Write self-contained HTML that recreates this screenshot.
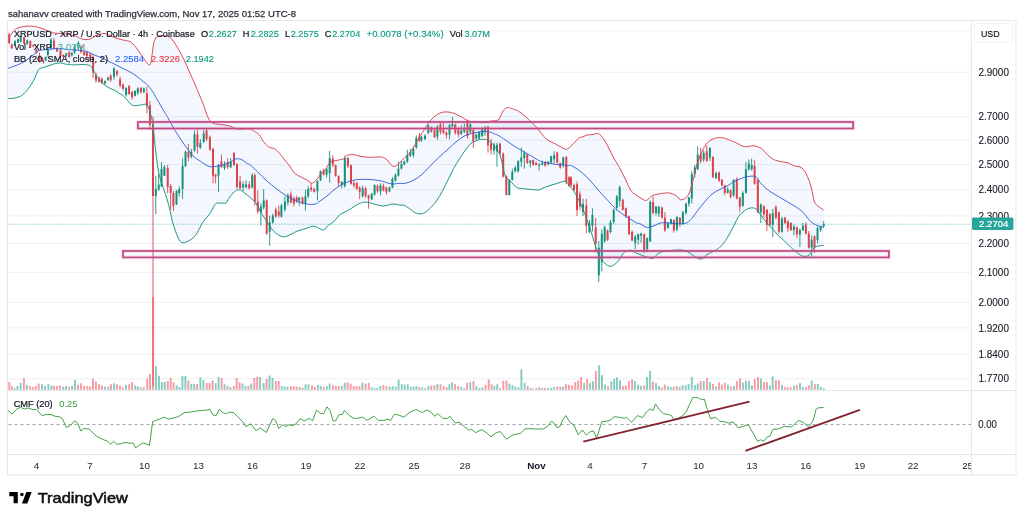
<!DOCTYPE html>
<html><head><meta charset="utf-8"><title>XRPUSD chart</title><style>html,body{margin:0;padding:0;background:#fff;width:1024px;height:521px;overflow:hidden}body{position:relative}</style></head><body>
<svg width="1024" height="521" viewBox="0 0 1024 521" style="position:absolute;left:0;top:0;filter:blur(0.35px)">
<rect width="1024" height="521" fill="#ffffff"/>
<text x="8" y="16.5" font-size="9.7" fill="#2a2e39" stroke="#2a2e39" stroke-width="0.25" font-family="Liberation Sans, Arial, sans-serif" textLength="288" lengthAdjust="spacingAndGlyphs">sahanavv created with TradingView.com, Nov 17, 2025 01:52 UTC-8</text>
<defs><clipPath id="mainclip"><rect x="7.5" y="20.5" width="964" height="370"/></clipPath><clipPath id="cmfclip"><rect x="7.5" y="391" width="964" height="63.5"/></clipPath></defs>
<line x1="8.5" y1="30.8" x2="971" y2="30.8" stroke="#eff0f3" stroke-width="1"/>
<line x1="8.5" y1="72.2" x2="971" y2="72.2" stroke="#eff0f3" stroke-width="1"/>
<line x1="8.5" y1="116.7" x2="971" y2="116.7" stroke="#eff0f3" stroke-width="1"/>
<line x1="8.5" y1="140.3" x2="971" y2="140.3" stroke="#eff0f3" stroke-width="1"/>
<line x1="8.5" y1="164.6" x2="971" y2="164.6" stroke="#eff0f3" stroke-width="1"/>
<line x1="8.5" y1="189.5" x2="971" y2="189.5" stroke="#eff0f3" stroke-width="1"/>
<line x1="8.5" y1="215.9" x2="971" y2="215.9" stroke="#eff0f3" stroke-width="1"/>
<line x1="8.5" y1="243.5" x2="971" y2="243.5" stroke="#eff0f3" stroke-width="1"/>
<line x1="8.5" y1="272.5" x2="971" y2="272.5" stroke="#eff0f3" stroke-width="1"/>
<line x1="8.5" y1="302.5" x2="971" y2="302.5" stroke="#eff0f3" stroke-width="1"/>
<line x1="8.5" y1="327.9" x2="971" y2="327.9" stroke="#eff0f3" stroke-width="1"/>
<line x1="8.5" y1="354.5" x2="971" y2="354.5" stroke="#eff0f3" stroke-width="1"/>
<line x1="8.5" y1="378.7" x2="971" y2="378.7" stroke="#eff0f3" stroke-width="1"/>
<g clip-path="url(#mainclip)">
<path d="M7,36.5 C7.55,36.32 9.13,36.4 10.3,35.4 C11.47,34.4 12.85,31.67 14,30.5 C15.15,29.33 15.63,29.07 17.2,28.4 C18.77,27.73 21.1,26.88 23.4,26.5 C25.7,26.12 28.45,25.95 31,26.1 C33.55,26.25 35.87,26.62 38.7,27.4 C41.53,28.18 45.45,29.87 48,30.8 C50.55,31.73 51.7,32.55 54,33 C56.3,33.45 59.23,33.23 61.8,33.5 C64.37,33.77 66.87,34.1 69.4,34.6 C71.93,35.1 75.37,35.93 77,36.5 C78.63,37.07 77.82,37.48 79.2,38 C80.58,38.52 83.38,39.47 85.3,39.6 C87.22,39.73 89.03,39.43 90.7,38.8 C92.37,38.17 94.02,36.43 95.3,35.8 C96.58,35.17 96.78,35.38 98.4,35 C100.02,34.62 102.45,33.12 105,33.5 C107.55,33.88 111.2,36.35 113.7,37.3 C116.2,38.25 118.12,38.67 120,39.2 C121.88,39.73 123.27,40.07 125,40.5 C126.73,40.93 128.6,40.68 130.4,41.8 C132.2,42.92 134.02,45.07 135.8,47.2 C137.58,49.33 139.53,52.37 141.1,54.6 C142.67,56.83 143.73,58.87 145.2,60.6 C146.67,62.33 148.78,65.78 149.9,65 C151.02,64.22 151.23,59.65 151.9,55.9 C152.57,52.15 153.12,45.63 153.9,42.5 C154.68,39.37 155.6,38.22 156.6,37.1 C157.6,35.98 158.45,35.98 159.9,35.8 C161.35,35.62 163.72,35.78 165.3,36 C166.88,36.22 168.05,36.25 169.4,37.1 C170.75,37.95 171.83,38.97 173.4,41.1 C174.97,43.23 177.02,46.77 178.8,49.9 C180.58,53.03 182.32,56.22 184.1,59.9 C185.88,63.58 187.7,67.97 189.5,72 C191.3,76.03 193.38,80.6 194.9,84.1 C196.42,87.6 197.18,89.62 198.6,93 C200.02,96.38 202.02,100.77 203.4,104.4 C204.78,108.03 205.55,111.78 206.9,114.8 C208.25,117.82 209.45,120.9 211.5,122.5 C213.55,124.1 216.32,123.87 219.2,124.4 C222.08,124.93 226.08,125 228.8,125.7 C231.52,126.4 233.58,128.02 235.5,128.6 C237.42,129.18 237.88,129.15 240.3,129.2 C242.72,129.25 247.48,128.42 250,128.9 C252.52,129.38 253.83,131.12 255.4,132.1 C256.97,133.08 258.07,133.23 259.4,134.8 C260.73,136.37 261.83,139.48 263.4,141.5 C264.97,143.52 266.88,145.67 268.8,146.9 C270.72,148.13 273.1,147.78 274.9,148.9 C276.7,150.02 277.92,151.7 279.6,153.6 C281.28,155.5 283.22,158.07 285,160.3 C286.78,162.53 288.73,164.87 290.3,167 C291.87,169.13 292.6,171.42 294.4,173.1 C296.2,174.78 298.87,175.87 301.1,177.1 C303.33,178.33 306.02,179.48 307.8,180.5 C309.58,181.52 310.45,183.2 311.8,183.2 C313.15,183.2 314.55,181.85 315.9,180.5 C317.25,179.15 318.33,176.9 319.9,175.1 C321.47,173.3 323.73,171.72 325.3,169.7 C326.87,167.68 328.42,164.35 329.3,163 C330.18,161.65 329.18,162.07 330.6,161.6 C332.02,161.13 335.63,160.68 337.8,160.2 C339.97,159.72 342.17,159.48 343.6,158.7 C345.03,157.92 344.73,156.18 346.4,155.5 C348.07,154.82 351.17,154.43 353.6,154.6 C356.03,154.77 358.28,156.05 361,156.5 C363.72,156.95 366.5,157.22 369.9,157.3 C373.3,157.38 378.52,156.55 381.4,157 C384.28,157.45 385.6,158.72 387.2,160 C388.8,161.28 389.72,163.63 391,164.7 C392.28,165.77 393.4,166.78 394.9,166.4 C396.4,166.02 398.32,163.9 400,162.4 C401.68,160.9 403.33,159.07 405,157.4 C406.67,155.73 408.33,154.48 410,152.4 C411.67,150.32 413.33,147.6 415,144.9 C416.67,142.2 418.35,138.9 420,136.2 C421.65,133.5 423.25,131.2 424.9,128.7 C426.55,126.2 428.23,123.28 429.9,121.2 C431.57,119.12 433.23,117.55 434.9,116.2 C436.57,114.85 438.22,113.82 439.9,113.1 C441.58,112.38 443.02,111.98 445,111.9 C446.98,111.82 449.38,111.93 451.8,112.6 C454.22,113.27 456.87,114.58 459.5,115.9 C462.13,117.22 465.35,119.52 467.6,120.5 C469.85,121.48 470.75,121.47 473,121.8 C475.25,122.13 478.85,122.42 481.1,122.5 C483.35,122.58 484.93,122.53 486.5,122.3 C488.07,122.07 488.72,121.43 490.5,121.1 C492.28,120.77 495.75,120.68 497.2,120.3 C498.65,119.92 498.23,120.33 499.2,118.8 C500.17,117.27 501.72,112.95 503,111.1 C504.28,109.25 505.62,108.18 506.9,107.7 C508.18,107.22 508.78,107.63 510.7,108.2 C512.62,108.77 515.85,109.65 518.4,111.1 C520.95,112.55 523.77,114.98 526,116.9 C528.23,118.82 529.87,120.68 531.8,122.6 C533.73,124.52 535.68,126.17 537.6,128.4 C539.52,130.63 541.38,133.92 543.3,136 C545.22,138.08 547.17,139.62 549.1,140.9 C551.03,142.18 553.08,142.77 554.9,143.7 C556.72,144.63 558.18,145.57 560,146.5 C561.82,147.43 564.2,149.15 565.8,149.3 C567.4,149.45 568.33,148.35 569.6,147.4 C570.87,146.45 571.8,145.2 573.4,143.6 C575,142 577.6,138.92 579.2,137.8 C580.8,136.68 581.72,137.37 583,136.9 C584.28,136.43 585.3,135.38 586.9,135 C588.5,134.62 590.85,134.87 592.6,134.6 C594.35,134.33 595.8,133.02 597.4,133.4 C599,133.78 600.43,134.72 602.2,136.9 C603.97,139.08 606.08,142.98 608,146.5 C609.92,150.02 611.78,154.48 613.7,158 C615.62,161.52 617.57,164.08 619.5,167.6 C621.43,171.12 623.38,175.27 625.3,179.1 C627.22,182.93 629.08,187.88 631,190.6 C632.92,193.32 634.55,193.8 636.8,195.4 C639.05,197 642.68,199.5 644.5,200.2 C646.32,200.9 646.43,200.33 647.7,199.6 C648.97,198.87 650.18,196.75 652.1,195.8 C654.02,194.85 656.42,194.38 659.2,193.9 C661.98,193.42 665.92,192.58 668.8,192.9 C671.68,193.22 674.58,194.67 676.5,195.8 C678.42,196.93 678.72,199.38 680.3,199.7 C681.88,200.02 684.38,199.15 686,197.7 C687.62,196.25 688.72,194.35 690,191 C691.28,187.65 692.43,182.4 693.7,177.6 C694.97,172.8 696,167 697.6,162.2 C699.2,157.4 701.38,152.32 703.3,148.8 C705.22,145.28 706.85,142.92 709.1,141.1 C711.35,139.28 714.23,138.38 716.8,137.9 C719.37,137.42 721.95,137.67 724.5,138.2 C727.05,138.73 730.1,140.32 732.1,141.1 C734.1,141.88 734.48,141.97 736.5,142.9 C738.52,143.83 741.32,146.22 744.2,146.7 C747.08,147.18 750.92,145.48 753.8,145.8 C756.68,146.12 759.27,147.17 761.5,148.6 C763.73,150.03 765.28,152.63 767.2,154.4 C769.12,156.17 771.08,158.08 773,159.2 C774.92,160.32 776.15,160.47 778.7,161.1 C781.25,161.73 785.73,162.2 788.3,163 C790.87,163.8 791.85,165.1 794.1,165.9 C796.35,166.7 799.57,166.03 801.8,167.8 C804.03,169.57 805.9,173.13 807.5,176.5 C809.1,179.87 810.27,183.85 811.4,188 C812.53,192.15 813.35,198.52 814.3,201.4 C815.25,204.28 815.53,203.85 817.1,205.3 C818.67,206.75 822.6,209.3 823.7,210.1 L823.7,245.4 C823.08,245.45 821.4,245.45 820,245.7 C818.6,245.95 816.33,246.52 815.3,246.9 C814.27,247.28 814.43,247.18 813.8,248 C813.17,248.82 812.27,250.65 811.5,251.8 C810.73,252.95 810.12,254.13 809.2,254.9 C808.28,255.67 807.28,256.27 806,256.4 C804.72,256.53 803.02,256.33 801.5,255.7 C799.98,255.07 798.7,254.02 796.9,252.6 C795.1,251.18 792.75,249.12 790.7,247.2 C788.65,245.28 786.65,243.02 784.6,241.1 C782.55,239.18 780.2,237.5 778.4,235.7 C776.6,233.9 775.33,231.97 773.8,230.3 C772.27,228.63 770.73,227.37 769.2,225.7 C767.67,224.03 766.13,222.25 764.6,220.3 C763.07,218.35 761.48,215.93 760,214 C758.52,212.07 757.37,209.68 755.7,208.7 C754.03,207.72 751.92,207.72 750,208.1 C748.08,208.48 746.13,209.55 744.2,211 C742.27,212.45 740.1,214.38 738.4,216.8 C736.7,219.22 735.68,222.3 734,225.5 C732.32,228.7 730.22,232.8 728.3,236 C726.38,239.2 724.42,242.45 722.5,244.7 C720.58,246.95 718.72,248.22 716.8,249.5 C714.88,250.78 712.77,251.43 711,252.4 C709.23,253.37 707.8,254.18 706.2,255.3 C704.6,256.42 703.15,258.78 701.4,259.1 C699.65,259.42 697.6,258.17 695.7,257.2 C693.8,256.23 691.93,254.42 690,253.3 C688.07,252.18 686.03,251.07 684.1,250.5 C682.17,249.93 680.63,249.9 678.4,249.9 C676.17,249.9 673.27,250.25 670.7,250.5 C668.13,250.75 665.23,250.77 663,251.4 C660.77,252.03 658.97,253.13 657.3,254.3 C655.63,255.47 654.5,257.85 653,258.4 C651.5,258.95 650.1,258.12 648.3,257.6 C646.5,257.08 644.25,256.07 642.2,255.3 C640.15,254.53 637.8,253.82 636,253 C634.2,252.18 632.93,250.78 631.4,250.4 C629.87,250.02 628.2,250.13 626.8,250.7 C625.4,251.27 624.27,252.25 623,253.8 C621.73,255.35 620.62,258.22 619.2,260 C617.78,261.78 616.03,263.43 614.5,264.5 C612.97,265.57 611.53,266.52 610,266.4 C608.47,266.28 606.85,265.13 605.3,263.8 C603.75,262.47 602.25,261.03 600.7,258.4 C599.15,255.77 597.42,251.85 596,248 C594.58,244.15 593.47,239.35 592.2,235.3 C590.93,231.25 590,228.18 588.4,223.7 C586.8,219.22 584.83,213.52 582.6,208.4 C580.37,203.28 577.23,196.83 575,193 C572.77,189.17 570.62,187.23 569.2,185.4 C567.78,183.57 567.33,182.7 566.5,182 C565.67,181.3 565.22,181.13 564.2,181.2 C563.18,181.27 562.07,181.88 560.4,182.4 C558.73,182.92 556.27,183.67 554.2,184.3 C552.13,184.93 549.87,185.58 548,186.2 C546.13,186.82 544.47,187.38 543,188 C541.53,188.62 540.45,189.58 539.2,189.9 C537.95,190.22 537.17,190 535.5,189.9 C533.83,189.8 531.28,189.5 529.2,189.3 C527.12,189.1 525.08,189.02 523,188.7 C520.92,188.38 518.78,188.65 516.7,187.4 C514.62,186.15 512.45,183.27 510.5,181.2 C508.55,179.13 506.75,179.37 505,175 C503.25,170.63 501.83,159.88 500,155 C498.17,150.12 495.63,147.9 494,145.7 C492.37,143.5 491.47,142.83 490.2,141.8 C488.93,140.77 488,139.88 486.4,139.5 C484.8,139.12 482.2,139.32 480.6,139.5 C479,139.68 478.4,139.95 476.8,140.6 C475.2,141.25 472.92,141.8 471,143.4 C469.08,145 467.22,147.63 465.3,150.2 C463.38,152.77 461.43,155.77 459.5,158.8 C457.57,161.83 455.62,164.87 453.7,168.4 C451.78,171.93 449.92,176.17 448,180 C446.08,183.83 444.12,187.9 442.2,191.4 C440.28,194.9 438.42,198.28 436.5,201 C434.58,203.72 432.62,205.78 430.7,207.7 C428.78,209.62 426.75,211.47 425,212.5 C423.25,213.53 421.8,213.83 420.2,213.9 C418.6,213.97 417.17,213.77 415.4,212.9 C413.63,212.03 411.53,209.98 409.6,208.7 C407.67,207.42 405.4,205.78 403.8,205.2 C402.2,204.62 401.82,205.4 400,205.2 C398.18,205 395.68,203.87 392.9,204 C390.12,204.13 386.5,206 383.3,206 C380.1,206 376.58,204.65 373.7,204 C370.82,203.35 368.55,202.1 366,202.1 C363.45,202.1 361.27,202.68 358.4,204 C355.53,205.32 351.87,208.22 348.8,210 C345.73,211.78 342.47,212.8 340,214.7 C337.53,216.6 335.95,219.63 334,221.4 C332.05,223.17 330.05,223.87 328.3,225.3 C326.55,226.73 325.1,229.53 323.5,230 C321.9,230.47 320.45,228.73 318.7,228.1 C316.95,227.47 314.92,226.2 313,226.2 C311.08,226.2 309.77,227.3 307.2,228.1 C304.63,228.9 300.17,230.03 297.6,231 C295.03,231.97 294.05,232.93 291.8,233.9 C289.55,234.87 286.33,236.63 284.1,236.8 C281.87,236.97 280.32,236.03 278.4,234.9 C276.48,233.77 274.52,232.25 272.6,230 C270.68,227.75 268.82,224.27 266.9,221.4 C264.98,218.53 262.97,215.87 261.1,212.8 C259.23,209.73 257.55,205.58 255.7,203 C253.85,200.42 251.93,199.05 250,197.3 C248.07,195.55 245.88,193.77 244.1,192.5 C242.32,191.23 240.9,189.85 239.3,189.7 C237.7,189.55 236.25,190.17 234.5,191.6 C232.75,193.03 230.22,196.4 228.8,198.3 C227.38,200.2 227.43,202.22 226,203 C224.57,203.78 221.97,202.83 220.2,203 C218.43,203.17 217,202.4 215.4,204 C213.8,205.6 212.67,209.57 210.6,212.6 C208.53,215.63 205.55,218.35 203,222.2 C200.45,226.05 197.87,232.5 195.3,235.7 C192.73,238.9 189.85,240.28 187.6,241.4 C185.35,242.52 183.4,243.03 181.8,242.4 C180.2,241.77 179.5,240.83 178,237.6 C176.5,234.37 173.97,226.77 172.8,223 C171.63,219.23 171.87,218.67 171,215 C170.13,211.33 168.93,205.63 167.6,201 C166.27,196.37 164.53,192.2 163,187.2 C161.47,182.2 159.73,178.03 158.4,171 C157.07,163.97 155.9,152.67 155,145 C154.1,137.33 153.83,130.5 153,125 C152.17,119.5 150.92,115.17 150,112 C149.08,108.83 148.28,107.3 147.5,106 C146.72,104.7 146.68,104.32 145.3,104.2 C143.92,104.08 141.37,105.12 139.2,105.3 C137.03,105.48 134.48,106.38 132.3,105.3 C130.12,104.22 127.78,100.52 126.1,98.8 C124.42,97.08 123.35,95.9 122.2,95 C121.05,94.1 120.47,94.18 119.2,93.4 C117.93,92.62 116.27,91.2 114.6,90.3 C112.93,89.4 111,89.02 109.2,88 C107.4,86.98 105.47,85.6 103.8,84.2 C102.13,82.8 100.73,81.52 99.2,79.6 C97.67,77.68 95.88,74.77 94.6,72.7 C93.32,70.63 92.4,68.43 91.5,67.2 C90.6,65.97 90.62,65.75 89.2,65.3 C87.78,64.85 85.32,64.57 83,64.5 C80.68,64.43 77.85,64.9 75.3,64.9 C72.75,64.9 69.58,64.68 67.7,64.5 C65.82,64.32 65.17,64.05 64,63.8 C62.83,63.55 62.05,63.07 60.7,63 C59.35,62.93 57.82,62.97 55.9,63.4 C53.98,63.83 51.43,64.87 49.2,65.6 C46.97,66.33 44.27,67.13 42.5,67.8 C40.73,68.47 39.88,67.9 38.6,69.6 C37.32,71.3 36.07,75.47 34.8,78 C33.53,80.53 32.6,82.4 31,84.8 C29.4,87.2 26.97,90.48 25.2,92.4 C23.43,94.32 22.32,95.33 20.4,96.3 C18.48,97.27 15.93,97.82 13.7,98.2 C11.47,98.58 8.12,98.53 7,98.6 Z" fill="#487ade" fill-opacity="0.062" stroke="none"/>
<rect x="8.35" y="382" width="1.9" height="7.8" fill="#F23645" fill-opacity="0.5"/>
<rect x="10.85" y="386" width="1.9" height="3.8" fill="#F23645" fill-opacity="0.5"/>
<rect x="13.65" y="388" width="1.9" height="1.8" fill="#089981" fill-opacity="0.5"/>
<rect x="16.55" y="386" width="1.9" height="3.8" fill="#089981" fill-opacity="0.5"/>
<rect x="19.75" y="383" width="1.9" height="6.8" fill="#089981" fill-opacity="0.5"/>
<rect x="22.95" y="378.2" width="1.9" height="11.6" fill="#F23645" fill-opacity="0.5"/>
<rect x="25.85" y="384.8" width="1.9" height="5" fill="#089981" fill-opacity="0.5"/>
<rect x="28.85" y="386" width="1.9" height="3.8" fill="#F23645" fill-opacity="0.5"/>
<rect x="31.75" y="387" width="1.9" height="2.8" fill="#F23645" fill-opacity="0.5"/>
<rect x="34.75" y="386" width="1.9" height="3.8" fill="#F23645" fill-opacity="0.5"/>
<rect x="37.75" y="383.6" width="1.9" height="6.2" fill="#F23645" fill-opacity="0.5"/>
<rect x="41.05" y="384.2" width="1.9" height="5.6" fill="#089981" fill-opacity="0.5"/>
<rect x="44.05" y="386" width="1.9" height="3.8" fill="#089981" fill-opacity="0.5"/>
<rect x="47.45" y="384.2" width="1.9" height="5.6" fill="#089981" fill-opacity="0.5"/>
<rect x="50.45" y="385.5" width="1.9" height="4.3" fill="#089981" fill-opacity="0.5"/>
<rect x="53.05" y="385.9" width="1.9" height="3.9" fill="#F23645" fill-opacity="0.5"/>
<rect x="55.95" y="386" width="1.9" height="3.8" fill="#F23645" fill-opacity="0.5"/>
<rect x="59.05" y="385.5" width="1.9" height="4.3" fill="#F23645" fill-opacity="0.5"/>
<rect x="62.25" y="386.7" width="1.9" height="3.1" fill="#089981" fill-opacity="0.5"/>
<rect x="65.15" y="386" width="1.9" height="3.8" fill="#089981" fill-opacity="0.5"/>
<rect x="68.25" y="386.7" width="1.9" height="3.1" fill="#F23645" fill-opacity="0.5"/>
<rect x="71.15" y="386" width="1.9" height="3.8" fill="#089981" fill-opacity="0.5"/>
<rect x="74.05" y="379.8" width="1.9" height="10" fill="#089981" fill-opacity="0.5"/>
<rect x="77.05" y="384.8" width="1.9" height="5" fill="#F23645" fill-opacity="0.5"/>
<rect x="80.05" y="383.3" width="1.9" height="6.5" fill="#F23645" fill-opacity="0.5"/>
<rect x="83.15" y="386" width="1.9" height="3.8" fill="#F23645" fill-opacity="0.5"/>
<rect x="86.35" y="386" width="1.9" height="3.8" fill="#F23645" fill-opacity="0.5"/>
<rect x="89.25" y="386.7" width="1.9" height="3.1" fill="#F23645" fill-opacity="0.5"/>
<rect x="92.05" y="378.9" width="1.9" height="10.9" fill="#F23645" fill-opacity="0.5"/>
<rect x="95.05" y="381.7" width="1.9" height="8.1" fill="#F23645" fill-opacity="0.5"/>
<rect x="98.05" y="384.2" width="1.9" height="5.6" fill="#F23645" fill-opacity="0.5"/>
<rect x="100.95" y="385.5" width="1.9" height="4.3" fill="#F23645" fill-opacity="0.5"/>
<rect x="104.05" y="386.7" width="1.9" height="3.1" fill="#089981" fill-opacity="0.5"/>
<rect x="107.35" y="386.7" width="1.9" height="3.1" fill="#089981" fill-opacity="0.5"/>
<rect x="110.05" y="384.2" width="1.9" height="5.6" fill="#F23645" fill-opacity="0.5"/>
<rect x="113.05" y="383.3" width="1.9" height="6.5" fill="#089981" fill-opacity="0.5"/>
<rect x="115.95" y="384.2" width="1.9" height="5.6" fill="#F23645" fill-opacity="0.5"/>
<rect x="119.05" y="385.5" width="1.9" height="4.3" fill="#F23645" fill-opacity="0.5"/>
<rect x="121.85" y="387.4" width="1.9" height="2.4" fill="#F23645" fill-opacity="0.5"/>
<rect x="125.05" y="384.8" width="1.9" height="5" fill="#089981" fill-opacity="0.5"/>
<rect x="128.25" y="384.2" width="1.9" height="5.6" fill="#F23645" fill-opacity="0.5"/>
<rect x="131.15" y="382" width="1.9" height="7.8" fill="#F23645" fill-opacity="0.5"/>
<rect x="134.25" y="385.5" width="1.9" height="4.3" fill="#089981" fill-opacity="0.5"/>
<rect x="136.85" y="386.3" width="1.9" height="3.5" fill="#089981" fill-opacity="0.5"/>
<rect x="139.85" y="387.3" width="1.9" height="2.5" fill="#F23645" fill-opacity="0.5"/>
<rect x="142.75" y="387.3" width="1.9" height="2.5" fill="#089981" fill-opacity="0.5"/>
<rect x="146.25" y="378.5" width="1.9" height="11.3" fill="#F23645" fill-opacity="0.5"/>
<rect x="149.05" y="373.8" width="1.9" height="16" fill="#F23645" fill-opacity="0.5"/>
<rect x="152.15" y="297" width="1.9" height="92.8" fill="#F23645" fill-opacity="0.5"/>
<rect x="155.05" y="366.3" width="1.9" height="23.5" fill="#089981" fill-opacity="0.5"/>
<rect x="158.05" y="375.7" width="1.9" height="14.1" fill="#089981" fill-opacity="0.5"/>
<rect x="160.95" y="382" width="1.9" height="7.8" fill="#089981" fill-opacity="0.5"/>
<rect x="163.85" y="382" width="1.9" height="7.8" fill="#089981" fill-opacity="0.5"/>
<rect x="166.85" y="381" width="1.9" height="8.8" fill="#F23645" fill-opacity="0.5"/>
<rect x="169.75" y="378" width="1.9" height="11.8" fill="#F23645" fill-opacity="0.5"/>
<rect x="172.65" y="382.4" width="1.9" height="7.4" fill="#F23645" fill-opacity="0.5"/>
<rect x="175.65" y="385.3" width="1.9" height="4.5" fill="#089981" fill-opacity="0.5"/>
<rect x="178.55" y="386.9" width="1.9" height="2.9" fill="#089981" fill-opacity="0.5"/>
<rect x="181.45" y="376" width="1.9" height="13.8" fill="#089981" fill-opacity="0.5"/>
<rect x="184.45" y="376" width="1.9" height="13.8" fill="#089981" fill-opacity="0.5"/>
<rect x="187.35" y="380.6" width="1.9" height="9.2" fill="#F23645" fill-opacity="0.5"/>
<rect x="190.35" y="384" width="1.9" height="5.8" fill="#089981" fill-opacity="0.5"/>
<rect x="193.25" y="384" width="1.9" height="5.8" fill="#089981" fill-opacity="0.5"/>
<rect x="196.15" y="384" width="1.9" height="5.8" fill="#F23645" fill-opacity="0.5"/>
<rect x="199.45" y="377.5" width="1.9" height="12.3" fill="#089981" fill-opacity="0.5"/>
<rect x="202.45" y="380" width="1.9" height="9.8" fill="#089981" fill-opacity="0.5"/>
<rect x="205.75" y="383" width="1.9" height="6.8" fill="#F23645" fill-opacity="0.5"/>
<rect x="208.65" y="383" width="1.9" height="6.8" fill="#F23645" fill-opacity="0.5"/>
<rect x="211.65" y="380.4" width="1.9" height="9.4" fill="#F23645" fill-opacity="0.5"/>
<rect x="214.75" y="383.3" width="1.9" height="6.5" fill="#089981" fill-opacity="0.5"/>
<rect x="217.65" y="377.1" width="1.9" height="12.7" fill="#089981" fill-opacity="0.5"/>
<rect x="220.65" y="378" width="1.9" height="11.8" fill="#F23645" fill-opacity="0.5"/>
<rect x="223.55" y="384.3" width="1.9" height="5.5" fill="#089981" fill-opacity="0.5"/>
<rect x="226.55" y="385.9" width="1.9" height="3.9" fill="#F23645" fill-opacity="0.5"/>
<rect x="229.45" y="387.3" width="1.9" height="2.5" fill="#089981" fill-opacity="0.5"/>
<rect x="232.75" y="385.9" width="1.9" height="3.9" fill="#F23645" fill-opacity="0.5"/>
<rect x="235.75" y="378" width="1.9" height="11.8" fill="#F23645" fill-opacity="0.5"/>
<rect x="238.65" y="382.4" width="1.9" height="7.4" fill="#F23645" fill-opacity="0.5"/>
<rect x="241.55" y="383.5" width="1.9" height="6.3" fill="#089981" fill-opacity="0.5"/>
<rect x="244.55" y="385.9" width="1.9" height="3.9" fill="#089981" fill-opacity="0.5"/>
<rect x="247.45" y="385.9" width="1.9" height="3.9" fill="#F23645" fill-opacity="0.5"/>
<rect x="250.35" y="383.5" width="1.9" height="6.3" fill="#089981" fill-opacity="0.5"/>
<rect x="253.35" y="378" width="1.9" height="11.8" fill="#F23645" fill-opacity="0.5"/>
<rect x="256.25" y="376.7" width="1.9" height="13.1" fill="#F23645" fill-opacity="0.5"/>
<rect x="259.15" y="377.1" width="1.9" height="12.7" fill="#089981" fill-opacity="0.5"/>
<rect x="262.75" y="383" width="1.9" height="6.8" fill="#089981" fill-opacity="0.5"/>
<rect x="265.65" y="379" width="1.9" height="10.8" fill="#F23645" fill-opacity="0.5"/>
<rect x="268.55" y="375.5" width="1.9" height="14.3" fill="#089981" fill-opacity="0.5"/>
<rect x="271.55" y="377.7" width="1.9" height="12.1" fill="#089981" fill-opacity="0.5"/>
<rect x="274.85" y="381" width="1.9" height="8.8" fill="#F23645" fill-opacity="0.5"/>
<rect x="277.75" y="381" width="1.9" height="8.8" fill="#F23645" fill-opacity="0.5"/>
<rect x="280.75" y="385.9" width="1.9" height="3.9" fill="#089981" fill-opacity="0.5"/>
<rect x="283.65" y="386.5" width="1.9" height="3.3" fill="#089981" fill-opacity="0.5"/>
<rect x="286.55" y="386.9" width="1.9" height="2.9" fill="#089981" fill-opacity="0.5"/>
<rect x="289.95" y="385.9" width="1.9" height="3.9" fill="#F23645" fill-opacity="0.5"/>
<rect x="292.85" y="386.3" width="1.9" height="3.5" fill="#F23645" fill-opacity="0.5"/>
<rect x="295.75" y="386.5" width="1.9" height="3.3" fill="#F23645" fill-opacity="0.5"/>
<rect x="298.75" y="386.9" width="1.9" height="2.9" fill="#089981" fill-opacity="0.5"/>
<rect x="301.65" y="387.8" width="1.9" height="2" fill="#F23645" fill-opacity="0.5"/>
<rect x="304.55" y="384.3" width="1.9" height="5.5" fill="#089981" fill-opacity="0.5"/>
<rect x="307.55" y="384.3" width="1.9" height="5.5" fill="#089981" fill-opacity="0.5"/>
<rect x="311.05" y="385.3" width="1.9" height="4.5" fill="#F23645" fill-opacity="0.5"/>
<rect x="313.95" y="386.9" width="1.9" height="2.9" fill="#F23645" fill-opacity="0.5"/>
<rect x="316.95" y="384.9" width="1.9" height="4.9" fill="#089981" fill-opacity="0.5"/>
<rect x="319.85" y="385.9" width="1.9" height="3.9" fill="#089981" fill-opacity="0.5"/>
<rect x="322.75" y="386.9" width="1.9" height="2.9" fill="#F23645" fill-opacity="0.5"/>
<rect x="325.85" y="386.1" width="1.9" height="3.7" fill="#089981" fill-opacity="0.5"/>
<rect x="328.75" y="383.6" width="1.9" height="6.2" fill="#089981" fill-opacity="0.5"/>
<rect x="331.95" y="385.2" width="1.9" height="4.6" fill="#F23645" fill-opacity="0.5"/>
<rect x="334.85" y="386.1" width="1.9" height="3.7" fill="#F23645" fill-opacity="0.5"/>
<rect x="337.75" y="386.1" width="1.9" height="3.7" fill="#F23645" fill-opacity="0.5"/>
<rect x="340.85" y="386.1" width="1.9" height="3.7" fill="#089981" fill-opacity="0.5"/>
<rect x="343.75" y="382.9" width="1.9" height="6.9" fill="#089981" fill-opacity="0.5"/>
<rect x="346.65" y="382.3" width="1.9" height="7.5" fill="#F23645" fill-opacity="0.5"/>
<rect x="349.65" y="383.6" width="1.9" height="6.2" fill="#F23645" fill-opacity="0.5"/>
<rect x="352.65" y="386.1" width="1.9" height="3.7" fill="#F23645" fill-opacity="0.5"/>
<rect x="355.55" y="386.1" width="1.9" height="3.7" fill="#F23645" fill-opacity="0.5"/>
<rect x="358.55" y="386.1" width="1.9" height="3.7" fill="#F23645" fill-opacity="0.5"/>
<rect x="361.45" y="382.9" width="1.9" height="6.9" fill="#089981" fill-opacity="0.5"/>
<rect x="364.65" y="383.6" width="1.9" height="6.2" fill="#F23645" fill-opacity="0.5"/>
<rect x="367.85" y="382.9" width="1.9" height="6.9" fill="#F23645" fill-opacity="0.5"/>
<rect x="370.75" y="387.4" width="1.9" height="2.4" fill="#089981" fill-opacity="0.5"/>
<rect x="373.55" y="388" width="1.9" height="1.8" fill="#089981" fill-opacity="0.5"/>
<rect x="376.35" y="388" width="1.9" height="1.8" fill="#089981" fill-opacity="0.5"/>
<rect x="379.35" y="386.1" width="1.9" height="3.7" fill="#089981" fill-opacity="0.5"/>
<rect x="382.45" y="385.1" width="1.9" height="4.7" fill="#F23645" fill-opacity="0.5"/>
<rect x="385.55" y="386.1" width="1.9" height="3.7" fill="#F23645" fill-opacity="0.5"/>
<rect x="388.75" y="386.7" width="1.9" height="3.1" fill="#089981" fill-opacity="0.5"/>
<rect x="391.65" y="386.1" width="1.9" height="3.7" fill="#089981" fill-opacity="0.5"/>
<rect x="394.75" y="386.7" width="1.9" height="3.1" fill="#089981" fill-opacity="0.5"/>
<rect x="397.65" y="379.5" width="1.9" height="10.3" fill="#089981" fill-opacity="0.5"/>
<rect x="400.85" y="384.2" width="1.9" height="5.6" fill="#089981" fill-opacity="0.5"/>
<rect x="403.75" y="384.6" width="1.9" height="5.2" fill="#089981" fill-opacity="0.5"/>
<rect x="406.75" y="384.2" width="1.9" height="5.6" fill="#089981" fill-opacity="0.5"/>
<rect x="409.75" y="386.7" width="1.9" height="3.1" fill="#089981" fill-opacity="0.5"/>
<rect x="412.65" y="386.7" width="1.9" height="3.1" fill="#089981" fill-opacity="0.5"/>
<rect x="415.45" y="386.1" width="1.9" height="3.7" fill="#089981" fill-opacity="0.5"/>
<rect x="418.25" y="387.1" width="1.9" height="2.7" fill="#F23645" fill-opacity="0.5"/>
<rect x="421.25" y="387.4" width="1.9" height="2.4" fill="#089981" fill-opacity="0.5"/>
<rect x="424.35" y="388" width="1.9" height="1.8" fill="#089981" fill-opacity="0.5"/>
<rect x="427.45" y="386.1" width="1.9" height="3.7" fill="#089981" fill-opacity="0.5"/>
<rect x="430.35" y="385.5" width="1.9" height="4.3" fill="#F23645" fill-opacity="0.5"/>
<rect x="433.45" y="385.2" width="1.9" height="4.6" fill="#F23645" fill-opacity="0.5"/>
<rect x="436.45" y="384.2" width="1.9" height="5.6" fill="#089981" fill-opacity="0.5"/>
<rect x="439.55" y="384.2" width="1.9" height="5.6" fill="#F23645" fill-opacity="0.5"/>
<rect x="442.75" y="386.1" width="1.9" height="3.7" fill="#F23645" fill-opacity="0.5"/>
<rect x="445.85" y="387.4" width="1.9" height="2.4" fill="#F23645" fill-opacity="0.5"/>
<rect x="448.45" y="384.2" width="1.9" height="5.6" fill="#089981" fill-opacity="0.5"/>
<rect x="451.25" y="382.2" width="1.9" height="7.6" fill="#089981" fill-opacity="0.5"/>
<rect x="454.15" y="384.2" width="1.9" height="5.6" fill="#F23645" fill-opacity="0.5"/>
<rect x="457.25" y="386.1" width="1.9" height="3.7" fill="#F23645" fill-opacity="0.5"/>
<rect x="460.25" y="387.1" width="1.9" height="2.7" fill="#089981" fill-opacity="0.5"/>
<rect x="463.25" y="388" width="1.9" height="1.8" fill="#089981" fill-opacity="0.5"/>
<rect x="466.15" y="382.9" width="1.9" height="6.9" fill="#F23645" fill-opacity="0.5"/>
<rect x="469.35" y="382.3" width="1.9" height="7.5" fill="#089981" fill-opacity="0.5"/>
<rect x="472.55" y="381" width="1.9" height="8.8" fill="#F23645" fill-opacity="0.5"/>
<rect x="475.45" y="386.1" width="1.9" height="3.7" fill="#089981" fill-opacity="0.5"/>
<rect x="478.45" y="388" width="1.9" height="1.8" fill="#089981" fill-opacity="0.5"/>
<rect x="481.45" y="387.4" width="1.9" height="2.4" fill="#089981" fill-opacity="0.5"/>
<rect x="484.55" y="384.8" width="1.9" height="5" fill="#F23645" fill-opacity="0.5"/>
<rect x="487.75" y="379.5" width="1.9" height="10.3" fill="#F23645" fill-opacity="0.5"/>
<rect x="490.65" y="384.2" width="1.9" height="5.6" fill="#F23645" fill-opacity="0.5"/>
<rect x="493.45" y="386.1" width="1.9" height="3.7" fill="#089981" fill-opacity="0.5"/>
<rect x="496.25" y="384.2" width="1.9" height="5.6" fill="#089981" fill-opacity="0.5"/>
<rect x="499.15" y="388" width="1.9" height="1.8" fill="#F23645" fill-opacity="0.5"/>
<rect x="502.35" y="380.8" width="1.9" height="9" fill="#F23645" fill-opacity="0.5"/>
<rect x="505.55" y="380.4" width="1.9" height="9.4" fill="#F23645" fill-opacity="0.5"/>
<rect x="508.45" y="383.6" width="1.9" height="6.2" fill="#089981" fill-opacity="0.5"/>
<rect x="511.45" y="385.1" width="1.9" height="4.7" fill="#089981" fill-opacity="0.5"/>
<rect x="514.45" y="386.7" width="1.9" height="3.1" fill="#089981" fill-opacity="0.5"/>
<rect x="517.55" y="387.4" width="1.9" height="2.4" fill="#089981" fill-opacity="0.5"/>
<rect x="520.45" y="369.4" width="1.9" height="20.4" fill="#089981" fill-opacity="0.5"/>
<rect x="523.65" y="382.9" width="1.9" height="6.9" fill="#089981" fill-opacity="0.5"/>
<rect x="526.75" y="386.1" width="1.9" height="3.7" fill="#F23645" fill-opacity="0.5"/>
<rect x="529.65" y="388" width="1.9" height="1.8" fill="#089981" fill-opacity="0.5"/>
<rect x="532.15" y="388.6" width="1.9" height="1.2" fill="#F23645" fill-opacity="0.5"/>
<rect x="535.35" y="388" width="1.9" height="1.8" fill="#F23645" fill-opacity="0.5"/>
<rect x="538.25" y="387.4" width="1.9" height="2.4" fill="#089981" fill-opacity="0.5"/>
<rect x="541.05" y="388" width="1.9" height="1.8" fill="#F23645" fill-opacity="0.5"/>
<rect x="543.95" y="388" width="1.9" height="1.8" fill="#F23645" fill-opacity="0.5"/>
<rect x="547.05" y="388" width="1.9" height="1.8" fill="#089981" fill-opacity="0.5"/>
<rect x="550.15" y="388" width="1.9" height="1.8" fill="#089981" fill-opacity="0.5"/>
<rect x="553.15" y="387.1" width="1.9" height="2.7" fill="#089981" fill-opacity="0.5"/>
<rect x="556.25" y="386.5" width="1.9" height="3.3" fill="#F23645" fill-opacity="0.5"/>
<rect x="559.25" y="386.7" width="1.9" height="3.1" fill="#F23645" fill-opacity="0.5"/>
<rect x="561.95" y="386.7" width="1.9" height="3.1" fill="#089981" fill-opacity="0.5"/>
<rect x="564.95" y="384.2" width="1.9" height="5.6" fill="#F23645" fill-opacity="0.5"/>
<rect x="567.95" y="384.8" width="1.9" height="5" fill="#F23645" fill-opacity="0.5"/>
<rect x="571.15" y="385.5" width="1.9" height="4.3" fill="#F23645" fill-opacity="0.5"/>
<rect x="574.35" y="382" width="1.9" height="7.8" fill="#F23645" fill-opacity="0.5"/>
<rect x="577.25" y="380.6" width="1.9" height="9.2" fill="#F23645" fill-opacity="0.5"/>
<rect x="580.15" y="377" width="1.9" height="12.8" fill="#F23645" fill-opacity="0.5"/>
<rect x="583.15" y="383.1" width="1.9" height="6.7" fill="#089981" fill-opacity="0.5"/>
<rect x="586.15" y="378.9" width="1.9" height="10.9" fill="#F23645" fill-opacity="0.5"/>
<rect x="589.05" y="383.1" width="1.9" height="6.7" fill="#089981" fill-opacity="0.5"/>
<rect x="592.05" y="381.1" width="1.9" height="8.7" fill="#089981" fill-opacity="0.5"/>
<rect x="594.95" y="370.9" width="1.9" height="18.9" fill="#F23645" fill-opacity="0.5"/>
<rect x="598.15" y="365.4" width="1.9" height="24.4" fill="#089981" fill-opacity="0.5"/>
<rect x="601.05" y="375.1" width="1.9" height="14.7" fill="#089981" fill-opacity="0.5"/>
<rect x="604.15" y="384.6" width="1.9" height="5.2" fill="#089981" fill-opacity="0.5"/>
<rect x="607.05" y="386.2" width="1.9" height="3.6" fill="#F23645" fill-opacity="0.5"/>
<rect x="610.25" y="381.5" width="1.9" height="8.3" fill="#089981" fill-opacity="0.5"/>
<rect x="613.15" y="378.9" width="1.9" height="10.9" fill="#089981" fill-opacity="0.5"/>
<rect x="615.95" y="377.3" width="1.9" height="12.5" fill="#089981" fill-opacity="0.5"/>
<rect x="619.05" y="380.2" width="1.9" height="9.6" fill="#089981" fill-opacity="0.5"/>
<rect x="622.05" y="386.2" width="1.9" height="3.6" fill="#F23645" fill-opacity="0.5"/>
<rect x="624.85" y="385.3" width="1.9" height="4.5" fill="#F23645" fill-opacity="0.5"/>
<rect x="627.95" y="381.1" width="1.9" height="8.7" fill="#F23645" fill-opacity="0.5"/>
<rect x="631.15" y="379.3" width="1.9" height="10.5" fill="#F23645" fill-opacity="0.5"/>
<rect x="633.95" y="381.1" width="1.9" height="8.7" fill="#089981" fill-opacity="0.5"/>
<rect x="637.15" y="384.6" width="1.9" height="5.2" fill="#089981" fill-opacity="0.5"/>
<rect x="640.05" y="385.9" width="1.9" height="3.9" fill="#089981" fill-opacity="0.5"/>
<rect x="643.25" y="385.3" width="1.9" height="4.5" fill="#F23645" fill-opacity="0.5"/>
<rect x="646.15" y="377" width="1.9" height="12.8" fill="#089981" fill-opacity="0.5"/>
<rect x="649.15" y="370.9" width="1.9" height="18.9" fill="#089981" fill-opacity="0.5"/>
<rect x="651.95" y="381.5" width="1.9" height="8.3" fill="#F23645" fill-opacity="0.5"/>
<rect x="655.05" y="383.1" width="1.9" height="6.7" fill="#089981" fill-opacity="0.5"/>
<rect x="658.05" y="385.9" width="1.9" height="3.9" fill="#089981" fill-opacity="0.5"/>
<rect x="660.95" y="387.4" width="1.9" height="2.4" fill="#F23645" fill-opacity="0.5"/>
<rect x="663.85" y="384.6" width="1.9" height="5.2" fill="#F23645" fill-opacity="0.5"/>
<rect x="666.95" y="386.2" width="1.9" height="3.6" fill="#089981" fill-opacity="0.5"/>
<rect x="669.85" y="386.9" width="1.9" height="2.9" fill="#089981" fill-opacity="0.5"/>
<rect x="672.75" y="386.6" width="1.9" height="3.2" fill="#F23645" fill-opacity="0.5"/>
<rect x="675.85" y="386.2" width="1.9" height="3.6" fill="#089981" fill-opacity="0.5"/>
<rect x="678.75" y="386.9" width="1.9" height="2.9" fill="#F23645" fill-opacity="0.5"/>
<rect x="681.65" y="385.3" width="1.9" height="4.5" fill="#089981" fill-opacity="0.5"/>
<rect x="684.75" y="385.3" width="1.9" height="4.5" fill="#089981" fill-opacity="0.5"/>
<rect x="687.65" y="384" width="1.9" height="5.8" fill="#089981" fill-opacity="0.5"/>
<rect x="690.85" y="377" width="1.9" height="12.8" fill="#089981" fill-opacity="0.5"/>
<rect x="693.95" y="385" width="1.9" height="4.8" fill="#089981" fill-opacity="0.5"/>
<rect x="696.85" y="383.6" width="1.9" height="6.2" fill="#089981" fill-opacity="0.5"/>
<rect x="699.75" y="380.8" width="1.9" height="9" fill="#F23645" fill-opacity="0.5"/>
<rect x="702.85" y="381" width="1.9" height="8.8" fill="#089981" fill-opacity="0.5"/>
<rect x="706.05" y="378.1" width="1.9" height="11.7" fill="#F23645" fill-opacity="0.5"/>
<rect x="708.95" y="382.1" width="1.9" height="7.7" fill="#089981" fill-opacity="0.5"/>
<rect x="711.95" y="384" width="1.9" height="5.8" fill="#F23645" fill-opacity="0.5"/>
<rect x="714.95" y="386.2" width="1.9" height="3.6" fill="#089981" fill-opacity="0.5"/>
<rect x="718.05" y="382.4" width="1.9" height="7.4" fill="#F23645" fill-opacity="0.5"/>
<rect x="720.85" y="384.6" width="1.9" height="5.2" fill="#F23645" fill-opacity="0.5"/>
<rect x="723.95" y="382.7" width="1.9" height="7.1" fill="#F23645" fill-opacity="0.5"/>
<rect x="726.95" y="384.6" width="1.9" height="5.2" fill="#089981" fill-opacity="0.5"/>
<rect x="729.85" y="386.6" width="1.9" height="3.2" fill="#F23645" fill-opacity="0.5"/>
<rect x="732.95" y="385.9" width="1.9" height="3.9" fill="#089981" fill-opacity="0.5"/>
<rect x="735.85" y="381.1" width="1.9" height="8.7" fill="#F23645" fill-opacity="0.5"/>
<rect x="739.05" y="378.3" width="1.9" height="11.5" fill="#F23645" fill-opacity="0.5"/>
<rect x="741.95" y="382.7" width="1.9" height="7.1" fill="#089981" fill-opacity="0.5"/>
<rect x="744.95" y="380.6" width="1.9" height="9.2" fill="#089981" fill-opacity="0.5"/>
<rect x="747.95" y="380.8" width="1.9" height="9" fill="#089981" fill-opacity="0.5"/>
<rect x="751.05" y="385.3" width="1.9" height="4.5" fill="#089981" fill-opacity="0.5"/>
<rect x="753.85" y="378.9" width="1.9" height="10.9" fill="#F23645" fill-opacity="0.5"/>
<rect x="757.05" y="377" width="1.9" height="12.8" fill="#F23645" fill-opacity="0.5"/>
<rect x="759.95" y="378.6" width="1.9" height="11.2" fill="#089981" fill-opacity="0.5"/>
<rect x="763.15" y="382.1" width="1.9" height="7.7" fill="#F23645" fill-opacity="0.5"/>
<rect x="766.05" y="382.1" width="1.9" height="7.7" fill="#F23645" fill-opacity="0.5"/>
<rect x="769.05" y="385.3" width="1.9" height="4.5" fill="#089981" fill-opacity="0.5"/>
<rect x="771.75" y="376.4" width="1.9" height="13.4" fill="#089981" fill-opacity="0.5"/>
<rect x="774.95" y="380.2" width="1.9" height="9.6" fill="#F23645" fill-opacity="0.5"/>
<rect x="777.95" y="380.2" width="1.9" height="9.6" fill="#F23645" fill-opacity="0.5"/>
<rect x="780.95" y="384.9" width="1.9" height="4.9" fill="#089981" fill-opacity="0.5"/>
<rect x="783.85" y="387.2" width="1.9" height="2.6" fill="#F23645" fill-opacity="0.5"/>
<rect x="786.65" y="387.2" width="1.9" height="2.6" fill="#F23645" fill-opacity="0.5"/>
<rect x="789.75" y="387.2" width="1.9" height="2.6" fill="#F23645" fill-opacity="0.5"/>
<rect x="792.95" y="385.9" width="1.9" height="3.9" fill="#089981" fill-opacity="0.5"/>
<rect x="795.85" y="385" width="1.9" height="4.8" fill="#F23645" fill-opacity="0.5"/>
<rect x="799.05" y="383.1" width="1.9" height="6.7" fill="#089981" fill-opacity="0.5"/>
<rect x="801.85" y="387.2" width="1.9" height="2.6" fill="#089981" fill-opacity="0.5"/>
<rect x="805.05" y="387.2" width="1.9" height="2.6" fill="#F23645" fill-opacity="0.5"/>
<rect x="807.85" y="385" width="1.9" height="4.8" fill="#F23645" fill-opacity="0.5"/>
<rect x="810.75" y="380.6" width="1.9" height="9.2" fill="#089981" fill-opacity="0.5"/>
<rect x="813.85" y="384" width="1.9" height="5.8" fill="#F23645" fill-opacity="0.5"/>
<rect x="816.85" y="384" width="1.9" height="5.8" fill="#089981" fill-opacity="0.5"/>
<rect x="819.85" y="386.9" width="1.9" height="2.9" fill="#089981" fill-opacity="0.5"/>
<rect x="822.75" y="388.2" width="1.9" height="1.6" fill="#089981" fill-opacity="0.5"/>
<rect x="8.75" y="32.7" width="0.9" height="11.5" fill="#dc444c"/>
<rect x="8.2" y="34.44" width="2" height="8.46" fill="#dc444c"/>
<rect x="11.35" y="43.4" width="0.9" height="5.4" fill="#dc444c"/>
<rect x="10.8" y="44.61" width="2" height="3.68" fill="#dc444c"/>
<rect x="14.55" y="40" width="0.9" height="6" fill="#15917c"/>
<rect x="14" y="41.19" width="2" height="3.85" fill="#15917c"/>
<rect x="17.55" y="38.8" width="0.9" height="4.6" fill="#15917c"/>
<rect x="17" y="39.23" width="2" height="3.29" fill="#15917c"/>
<rect x="20.25" y="35.7" width="0.9" height="7" fill="#15917c"/>
<rect x="19.7" y="36.32" width="2" height="5.15" fill="#15917c"/>
<rect x="23.65" y="36.5" width="0.9" height="7.7" fill="#dc444c"/>
<rect x="23.1" y="37.23" width="2" height="6.2" fill="#dc444c"/>
<rect x="26.75" y="39.6" width="0.9" height="5.4" fill="#15917c"/>
<rect x="26.2" y="40.54" width="2" height="3.05" fill="#15917c"/>
<rect x="29.85" y="40.3" width="0.9" height="7.7" fill="#dc444c"/>
<rect x="29.3" y="41.13" width="2" height="5.88" fill="#dc444c"/>
<rect x="32.85" y="44.2" width="0.9" height="3.1" fill="#dc444c"/>
<rect x="32.3" y="44.88" width="2" height="1.53" fill="#dc444c"/>
<rect x="35.95" y="48.8" width="0.9" height="4.6" fill="#dc444c"/>
<rect x="35.4" y="49.75" width="2" height="2.88" fill="#dc444c"/>
<rect x="39.05" y="52.6" width="0.9" height="10" fill="#dc444c"/>
<rect x="38.5" y="55.55" width="2" height="6.15" fill="#dc444c"/>
<rect x="42.05" y="57.2" width="0.9" height="4.6" fill="#dc444c"/>
<rect x="41.5" y="58.44" width="2" height="2.7" fill="#dc444c"/>
<rect x="45.15" y="56.5" width="0.9" height="4.5" fill="#15917c"/>
<rect x="44.6" y="57" width="2" height="3.52" fill="#15917c"/>
<rect x="47.45" y="48" width="0.9" height="9.2" fill="#15917c"/>
<rect x="46.9" y="49.36" width="2" height="5.45" fill="#15917c"/>
<rect x="50.55" y="38" width="0.9" height="12.3" fill="#15917c"/>
<rect x="50" y="39.47" width="2" height="8.27" fill="#15917c"/>
<rect x="53.55" y="38" width="0.9" height="11.6" fill="#dc444c"/>
<rect x="53" y="40.56" width="2" height="7.16" fill="#dc444c"/>
<rect x="56.65" y="47.3" width="0.9" height="4.6" fill="#dc444c"/>
<rect x="56.1" y="48.22" width="2" height="3.25" fill="#dc444c"/>
<rect x="60.05" y="49.8" width="0.9" height="7.5" fill="#dc444c"/>
<rect x="59.5" y="50.5" width="2" height="5.86" fill="#dc444c"/>
<rect x="62.85" y="54.2" width="0.9" height="3" fill="#dc444c"/>
<rect x="62.3" y="54.89" width="2" height="1.79" fill="#dc444c"/>
<rect x="65.75" y="52.7" width="0.9" height="4.3" fill="#15917c"/>
<rect x="65.2" y="53.34" width="2" height="2.76" fill="#15917c"/>
<rect x="68.75" y="51.1" width="0.9" height="6.9" fill="#dc444c"/>
<rect x="68.2" y="52.34" width="2" height="4.65" fill="#dc444c"/>
<rect x="71.45" y="51.9" width="0.9" height="4.6" fill="#15917c"/>
<rect x="70.9" y="53.07" width="2" height="2.35" fill="#15917c"/>
<rect x="74.15" y="45" width="0.9" height="9.2" fill="#15917c"/>
<rect x="73.6" y="46.23" width="2" height="6.07" fill="#15917c"/>
<rect x="77.95" y="41.1" width="0.9" height="9.2" fill="#15917c"/>
<rect x="77.4" y="42.9" width="2" height="4.89" fill="#15917c"/>
<rect x="80.65" y="45" width="0.9" height="8.4" fill="#dc444c"/>
<rect x="80.1" y="47.02" width="2" height="5.18" fill="#dc444c"/>
<rect x="83.75" y="50.3" width="0.9" height="5.4" fill="#dc444c"/>
<rect x="83.2" y="51.9" width="2" height="3.23" fill="#dc444c"/>
<rect x="86.45" y="51.1" width="0.9" height="6.2" fill="#dc444c"/>
<rect x="85.9" y="52.17" width="2" height="3.6" fill="#dc444c"/>
<rect x="89.85" y="53.4" width="0.9" height="5.4" fill="#dc444c"/>
<rect x="89.3" y="54.01" width="2" height="3.77" fill="#dc444c"/>
<rect x="92.65" y="55" width="0.9" height="23" fill="#dc444c"/>
<rect x="92.1" y="57.04" width="2" height="15.74" fill="#dc444c"/>
<rect x="95.55" y="72.7" width="0.9" height="9.9" fill="#dc444c"/>
<rect x="95" y="75.16" width="2" height="5.4" fill="#dc444c"/>
<rect x="98.65" y="76.5" width="0.9" height="6.1" fill="#dc444c"/>
<rect x="98.1" y="78.16" width="2" height="3.53" fill="#dc444c"/>
<rect x="101.45" y="77.3" width="0.9" height="6.9" fill="#dc444c"/>
<rect x="100.9" y="78.91" width="2" height="3.84" fill="#dc444c"/>
<rect x="104.55" y="80.3" width="0.9" height="3.9" fill="#15917c"/>
<rect x="104" y="81.11" width="2" height="2.39" fill="#15917c"/>
<rect x="107.55" y="76.5" width="0.9" height="4.6" fill="#15917c"/>
<rect x="107" y="77.72" width="2" height="2.06" fill="#15917c"/>
<rect x="110.25" y="74.2" width="0.9" height="7.7" fill="#dc444c"/>
<rect x="109.7" y="75.62" width="2" height="4.54" fill="#dc444c"/>
<rect x="113.55" y="67.3" width="0.9" height="12.3" fill="#15917c"/>
<rect x="113" y="68.45" width="2" height="8.27" fill="#15917c"/>
<rect x="116.55" y="69.6" width="0.9" height="6.9" fill="#dc444c"/>
<rect x="116" y="71.13" width="2" height="3.31" fill="#dc444c"/>
<rect x="119.65" y="76.5" width="0.9" height="10.7" fill="#dc444c"/>
<rect x="119.1" y="79.29" width="2" height="6.38" fill="#dc444c"/>
<rect x="122.55" y="83.4" width="0.9" height="6.9" fill="#dc444c"/>
<rect x="122" y="84.54" width="2" height="4.2" fill="#dc444c"/>
<rect x="125.65" y="87.2" width="0.9" height="9.3" fill="#15917c"/>
<rect x="125.1" y="87.99" width="2" height="6.82" fill="#15917c"/>
<rect x="128.65" y="85" width="0.9" height="10" fill="#dc444c"/>
<rect x="128.1" y="86.17" width="2" height="7.77" fill="#dc444c"/>
<rect x="131.65" y="91" width="0.9" height="8.6" fill="#dc444c"/>
<rect x="131.1" y="91.8" width="2" height="5.66" fill="#dc444c"/>
<rect x="134.55" y="90.3" width="0.9" height="6.2" fill="#15917c"/>
<rect x="134" y="90.97" width="2" height="4.69" fill="#15917c"/>
<rect x="137.35" y="87.2" width="0.9" height="7.8" fill="#15917c"/>
<rect x="136.8" y="88.49" width="2" height="4.39" fill="#15917c"/>
<rect x="140.45" y="87.3" width="0.9" height="6.1" fill="#dc444c"/>
<rect x="139.9" y="87.9" width="2" height="4.41" fill="#dc444c"/>
<rect x="143.45" y="87.3" width="0.9" height="6.1" fill="#15917c"/>
<rect x="142.9" y="88.53" width="2" height="3.2" fill="#15917c"/>
<rect x="146.45" y="86.5" width="0.9" height="26.9" fill="#dc444c"/>
<rect x="145.9" y="93.5" width="2" height="12.63" fill="#dc444c"/>
<rect x="149.45" y="101.1" width="0.9" height="28.9" fill="#dc444c"/>
<rect x="148.9" y="105.18" width="2" height="19.87" fill="#dc444c"/>
<rect x="152.55" y="116.5" width="0.9" height="269.5" fill="#dc444c"/>
<rect x="152" y="124.5" width="2" height="71.5" fill="#dc444c"/>
<rect x="155.35" y="175.7" width="0.9" height="38.3" fill="#15917c"/>
<rect x="154.8" y="189" width="2" height="6.8" fill="#15917c"/>
<rect x="158.25" y="174" width="0.9" height="17" fill="#15917c"/>
<rect x="157.7" y="184.5" width="2" height="5" fill="#15917c"/>
<rect x="161.05" y="162" width="0.9" height="25" fill="#15917c"/>
<rect x="160.5" y="169" width="2" height="17.2" fill="#15917c"/>
<rect x="163.95" y="165" width="0.9" height="11" fill="#15917c"/>
<rect x="163.4" y="167" width="2" height="8.7" fill="#15917c"/>
<rect x="167.25" y="165" width="0.9" height="28" fill="#dc444c"/>
<rect x="166.7" y="168" width="2" height="19" fill="#dc444c"/>
<rect x="170.25" y="184" width="0.9" height="26" fill="#dc444c"/>
<rect x="169.7" y="186" width="2" height="7" fill="#dc444c"/>
<rect x="172.95" y="191" width="0.9" height="20" fill="#dc444c"/>
<rect x="172.4" y="193" width="2" height="13" fill="#dc444c"/>
<rect x="176.05" y="190" width="0.9" height="15" fill="#15917c"/>
<rect x="175.5" y="191" width="2" height="13.5" fill="#15917c"/>
<rect x="178.75" y="186.5" width="0.9" height="10" fill="#15917c"/>
<rect x="178.2" y="189" width="2" height="4" fill="#15917c"/>
<rect x="182.15" y="158.4" width="0.9" height="40.3" fill="#15917c"/>
<rect x="181.6" y="166" width="2" height="23" fill="#15917c"/>
<rect x="185.05" y="150.7" width="0.9" height="16.3" fill="#15917c"/>
<rect x="184.5" y="151.7" width="2" height="14.3" fill="#15917c"/>
<rect x="187.95" y="144" width="0.9" height="17.3" fill="#dc444c"/>
<rect x="187.4" y="151.7" width="2" height="5.7" fill="#dc444c"/>
<rect x="190.85" y="149" width="0.9" height="9.4" fill="#15917c"/>
<rect x="190.3" y="151.7" width="2" height="4.8" fill="#15917c"/>
<rect x="194.05" y="130.6" width="0.9" height="21.1" fill="#15917c"/>
<rect x="193.5" y="134.4" width="2" height="16.3" fill="#15917c"/>
<rect x="196.95" y="129.6" width="0.9" height="24" fill="#dc444c"/>
<rect x="196.4" y="134.4" width="2" height="12.5" fill="#dc444c"/>
<rect x="199.85" y="139.2" width="0.9" height="9.6" fill="#15917c"/>
<rect x="199.3" y="143" width="2" height="4.8" fill="#15917c"/>
<rect x="203.25" y="129.6" width="0.9" height="13.4" fill="#15917c"/>
<rect x="202.7" y="133.4" width="2" height="8.6" fill="#15917c"/>
<rect x="206.15" y="128.6" width="0.9" height="12.5" fill="#dc444c"/>
<rect x="205.6" y="130.6" width="2" height="8.6" fill="#dc444c"/>
<rect x="209.45" y="135.4" width="0.9" height="15.3" fill="#dc444c"/>
<rect x="208.9" y="137.3" width="2" height="12.5" fill="#dc444c"/>
<rect x="212.55" y="147.8" width="0.9" height="35.5" fill="#dc444c"/>
<rect x="212" y="148.8" width="2" height="26.9" fill="#dc444c"/>
<rect x="215.15" y="173.7" width="0.9" height="9.6" fill="#dc444c"/>
<rect x="214.6" y="174.7" width="2" height="1.9" fill="#dc444c"/>
<rect x="218.05" y="164" width="0.9" height="28" fill="#15917c"/>
<rect x="217.5" y="165" width="2" height="10.7" fill="#15917c"/>
<rect x="220.95" y="154.5" width="0.9" height="13.5" fill="#dc444c"/>
<rect x="220.4" y="161.3" width="2" height="5.7" fill="#dc444c"/>
<rect x="224.05" y="161.3" width="0.9" height="8.7" fill="#15917c"/>
<rect x="223.5" y="164" width="2" height="4" fill="#15917c"/>
<rect x="227.25" y="158.4" width="0.9" height="10.6" fill="#dc444c"/>
<rect x="226.7" y="162.2" width="2" height="4.8" fill="#dc444c"/>
<rect x="230.25" y="158" width="0.9" height="10" fill="#15917c"/>
<rect x="229.7" y="162.1" width="2" height="5.1" fill="#15917c"/>
<rect x="233.55" y="152" width="0.9" height="14" fill="#dc444c"/>
<rect x="233" y="153" width="2" height="12" fill="#dc444c"/>
<rect x="236.55" y="163" width="0.9" height="25.5" fill="#dc444c"/>
<rect x="236" y="164" width="2" height="23.3" fill="#dc444c"/>
<rect x="239.65" y="176" width="0.9" height="13.3" fill="#dc444c"/>
<rect x="239.1" y="181.3" width="2" height="7" fill="#dc444c"/>
<rect x="242.65" y="181.3" width="0.9" height="10.1" fill="#15917c"/>
<rect x="242.1" y="184.3" width="2" height="3" fill="#15917c"/>
<rect x="245.65" y="180.3" width="0.9" height="8" fill="#15917c"/>
<rect x="245.1" y="184.3" width="2" height="3" fill="#15917c"/>
<rect x="248.75" y="181.3" width="0.9" height="8" fill="#dc444c"/>
<rect x="248.2" y="184.3" width="2" height="4" fill="#dc444c"/>
<rect x="251.75" y="173.2" width="0.9" height="15.1" fill="#15917c"/>
<rect x="251.2" y="175.2" width="2" height="12.1" fill="#15917c"/>
<rect x="254.35" y="173.2" width="0.9" height="32.3" fill="#dc444c"/>
<rect x="253.8" y="175.2" width="2" height="26.3" fill="#dc444c"/>
<rect x="257.35" y="190.4" width="0.9" height="23.1" fill="#dc444c"/>
<rect x="256.8" y="201.5" width="2" height="10" fill="#dc444c"/>
<rect x="260.45" y="203.5" width="0.9" height="22.1" fill="#15917c"/>
<rect x="259.9" y="206.5" width="2" height="6" fill="#15917c"/>
<rect x="263.25" y="189.4" width="0.9" height="20.1" fill="#15917c"/>
<rect x="262.7" y="200.4" width="2" height="7.1" fill="#15917c"/>
<rect x="266.25" y="199.4" width="0.9" height="35.3" fill="#dc444c"/>
<rect x="265.7" y="200.4" width="2" height="33.3" fill="#dc444c"/>
<rect x="269.25" y="215.6" width="0.9" height="30.2" fill="#15917c"/>
<rect x="268.7" y="222.6" width="2" height="9.1" fill="#15917c"/>
<rect x="272.35" y="213.6" width="0.9" height="10" fill="#15917c"/>
<rect x="271.8" y="215.6" width="2" height="7" fill="#15917c"/>
<rect x="275.35" y="207.5" width="0.9" height="10.1" fill="#dc444c"/>
<rect x="274.8" y="209.5" width="2" height="7.1" fill="#dc444c"/>
<rect x="278.35" y="205.5" width="0.9" height="12.1" fill="#dc444c"/>
<rect x="277.8" y="211.5" width="2" height="4.1" fill="#dc444c"/>
<rect x="280.95" y="203.5" width="0.9" height="14.1" fill="#15917c"/>
<rect x="280.4" y="205.5" width="2" height="11.1" fill="#15917c"/>
<rect x="284.45" y="196.4" width="0.9" height="15.1" fill="#15917c"/>
<rect x="283.9" y="201.5" width="2" height="8" fill="#15917c"/>
<rect x="287.45" y="193.4" width="0.9" height="12.1" fill="#15917c"/>
<rect x="286.9" y="195.4" width="2" height="7.1" fill="#15917c"/>
<rect x="290.45" y="191.4" width="0.9" height="12.1" fill="#dc444c"/>
<rect x="289.9" y="194.4" width="2" height="8.1" fill="#dc444c"/>
<rect x="293.45" y="196.4" width="0.9" height="10.1" fill="#dc444c"/>
<rect x="292.9" y="198.4" width="2" height="5.1" fill="#dc444c"/>
<rect x="296.25" y="195.5" width="0.9" height="7.5" fill="#dc444c"/>
<rect x="295.7" y="197.6" width="2" height="3.6" fill="#dc444c"/>
<rect x="298.75" y="196.9" width="0.9" height="8.7" fill="#15917c"/>
<rect x="298.2" y="197.6" width="2" height="2.9" fill="#15917c"/>
<rect x="302.05" y="196.5" width="0.9" height="8" fill="#dc444c"/>
<rect x="301.5" y="197.6" width="2" height="5.8" fill="#dc444c"/>
<rect x="304.95" y="189.7" width="0.9" height="20.9" fill="#15917c"/>
<rect x="304.4" y="196.2" width="2" height="7.2" fill="#15917c"/>
<rect x="307.75" y="186.1" width="0.9" height="12.3" fill="#15917c"/>
<rect x="307.2" y="189" width="2" height="7.2" fill="#15917c"/>
<rect x="310.65" y="183.2" width="0.9" height="8.7" fill="#dc444c"/>
<rect x="310.1" y="187.6" width="2" height="2.1" fill="#dc444c"/>
<rect x="313.75" y="187.6" width="0.9" height="5" fill="#dc444c"/>
<rect x="313.2" y="189" width="2" height="2.9" fill="#dc444c"/>
<rect x="316.95" y="180.3" width="0.9" height="20.2" fill="#15917c"/>
<rect x="316.4" y="181" width="2" height="10.2" fill="#15917c"/>
<rect x="320.05" y="170.3" width="0.9" height="10.7" fill="#15917c"/>
<rect x="319.5" y="171" width="2" height="9.3" fill="#15917c"/>
<rect x="323.15" y="168.8" width="0.9" height="6.5" fill="#dc444c"/>
<rect x="322.6" y="170.3" width="2" height="4.3" fill="#dc444c"/>
<rect x="326.15" y="168.1" width="0.9" height="9.4" fill="#15917c"/>
<rect x="325.6" y="168.8" width="2" height="5.8" fill="#15917c"/>
<rect x="329.25" y="150.8" width="0.9" height="31.7" fill="#15917c"/>
<rect x="328.7" y="158" width="2" height="15.1" fill="#15917c"/>
<rect x="332.35" y="155.1" width="0.9" height="11.6" fill="#dc444c"/>
<rect x="331.8" y="158.7" width="2" height="6.5" fill="#dc444c"/>
<rect x="335.15" y="164.5" width="0.9" height="12.2" fill="#dc444c"/>
<rect x="334.6" y="165.2" width="2" height="10.8" fill="#dc444c"/>
<rect x="338.15" y="175.3" width="0.9" height="10.8" fill="#dc444c"/>
<rect x="337.6" y="176" width="2" height="7.2" fill="#dc444c"/>
<rect x="341.35" y="181" width="0.9" height="7.3" fill="#15917c"/>
<rect x="340.8" y="181.8" width="2" height="2.9" fill="#15917c"/>
<rect x="344.35" y="156.6" width="0.9" height="31" fill="#15917c"/>
<rect x="343.8" y="158" width="2" height="28.1" fill="#15917c"/>
<rect x="347.45" y="157.3" width="0.9" height="10.8" fill="#dc444c"/>
<rect x="346.9" y="158" width="2" height="8" fill="#dc444c"/>
<rect x="350.55" y="164.5" width="0.9" height="20.2" fill="#dc444c"/>
<rect x="350" y="165.2" width="2" height="18.8" fill="#dc444c"/>
<rect x="353.45" y="180.3" width="0.9" height="7.3" fill="#dc444c"/>
<rect x="352.9" y="183.2" width="2" height="2.3" fill="#dc444c"/>
<rect x="356.35" y="181.8" width="0.9" height="7.9" fill="#dc444c"/>
<rect x="355.8" y="183.2" width="2" height="5.8" fill="#dc444c"/>
<rect x="359.25" y="186.1" width="0.9" height="13" fill="#dc444c"/>
<rect x="358.7" y="187.6" width="2" height="4.3" fill="#dc444c"/>
<rect x="362.25" y="185.4" width="0.9" height="12.2" fill="#15917c"/>
<rect x="361.7" y="188.3" width="2" height="7.8" fill="#15917c"/>
<rect x="365.15" y="186.7" width="0.9" height="11" fill="#dc444c"/>
<rect x="364.6" y="188.3" width="2" height="7.8" fill="#dc444c"/>
<rect x="368.15" y="194.6" width="0.9" height="14.1" fill="#dc444c"/>
<rect x="367.6" y="195.4" width="2" height="3.1" fill="#dc444c"/>
<rect x="371.25" y="193" width="0.9" height="7.1" fill="#15917c"/>
<rect x="370.7" y="193.8" width="2" height="5.5" fill="#15917c"/>
<rect x="374.15" y="184.3" width="0.9" height="11.1" fill="#15917c"/>
<rect x="373.6" y="185.1" width="2" height="9.5" fill="#15917c"/>
<rect x="377.05" y="184.3" width="0.9" height="8.7" fill="#dc444c"/>
<rect x="376.5" y="185.9" width="2" height="5.5" fill="#dc444c"/>
<rect x="380.05" y="183.5" width="0.9" height="11.9" fill="#15917c"/>
<rect x="379.5" y="185.1" width="2" height="6.3" fill="#15917c"/>
<rect x="382.95" y="183.5" width="0.9" height="7.9" fill="#dc444c"/>
<rect x="382.4" y="185.9" width="2" height="4.7" fill="#dc444c"/>
<rect x="385.95" y="186.7" width="0.9" height="7.9" fill="#dc444c"/>
<rect x="385.4" y="187.5" width="2" height="4.7" fill="#dc444c"/>
<rect x="389.05" y="186.7" width="0.9" height="5.5" fill="#15917c"/>
<rect x="388.5" y="187.5" width="2" height="3.9" fill="#15917c"/>
<rect x="391.95" y="177.2" width="0.9" height="11.1" fill="#15917c"/>
<rect x="391.4" y="178.8" width="2" height="8.7" fill="#15917c"/>
<rect x="394.95" y="173.3" width="0.9" height="8.7" fill="#15917c"/>
<rect x="394.4" y="174.9" width="2" height="5.5" fill="#15917c"/>
<rect x="397.95" y="161.5" width="0.9" height="15" fill="#15917c"/>
<rect x="397.4" y="168.6" width="2" height="7.1" fill="#15917c"/>
<rect x="400.95" y="160.7" width="0.9" height="8.7" fill="#15917c"/>
<rect x="400.4" y="163.9" width="2" height="4.7" fill="#15917c"/>
<rect x="403.85" y="160.7" width="0.9" height="4.7" fill="#15917c"/>
<rect x="403.3" y="161.5" width="2" height="3.1" fill="#15917c"/>
<rect x="406.85" y="149.7" width="0.9" height="13.4" fill="#15917c"/>
<rect x="406.3" y="155.2" width="2" height="6.3" fill="#15917c"/>
<rect x="409.85" y="148.9" width="0.9" height="7.9" fill="#15917c"/>
<rect x="409.3" y="152" width="2" height="4" fill="#15917c"/>
<rect x="412.85" y="146.5" width="0.9" height="11.1" fill="#15917c"/>
<rect x="412.3" y="148.9" width="2" height="6.3" fill="#15917c"/>
<rect x="415.85" y="135.5" width="0.9" height="13.4" fill="#15917c"/>
<rect x="415.3" y="137.9" width="2" height="9.4" fill="#15917c"/>
<rect x="418.95" y="133.1" width="0.9" height="8.7" fill="#dc444c"/>
<rect x="418.4" y="136.3" width="2" height="4.7" fill="#dc444c"/>
<rect x="421.05" y="136" width="0.9" height="5.8" fill="#15917c"/>
<rect x="420.5" y="136.92" width="2" height="3.29" fill="#15917c"/>
<rect x="424.55" y="134.1" width="0.9" height="5.8" fill="#15917c"/>
<rect x="424" y="135.79" width="2" height="3.46" fill="#15917c"/>
<rect x="427.85" y="124.5" width="0.9" height="9.6" fill="#15917c"/>
<rect x="427.3" y="125.64" width="2" height="7.2" fill="#15917c"/>
<rect x="430.85" y="126.5" width="0.9" height="6" fill="#dc444c"/>
<rect x="430.3" y="127.2" width="2" height="4.7" fill="#dc444c"/>
<rect x="434.05" y="129.2" width="0.9" height="8.8" fill="#dc444c"/>
<rect x="433.5" y="129.9" width="2" height="7.4" fill="#dc444c"/>
<rect x="436.95" y="125.2" width="0.9" height="14.8" fill="#15917c"/>
<rect x="436.4" y="126.5" width="2" height="10.1" fill="#15917c"/>
<rect x="439.95" y="122.5" width="0.9" height="12.1" fill="#dc444c"/>
<rect x="439.4" y="123.8" width="2" height="8.1" fill="#dc444c"/>
<rect x="442.95" y="122.5" width="0.9" height="11.4" fill="#dc444c"/>
<rect x="442.4" y="129.2" width="2" height="4" fill="#dc444c"/>
<rect x="445.95" y="131.2" width="0.9" height="7.4" fill="#dc444c"/>
<rect x="445.4" y="132.6" width="2" height="2.6" fill="#dc444c"/>
<rect x="449.05" y="123.8" width="0.9" height="15.5" fill="#15917c"/>
<rect x="448.5" y="125.2" width="2" height="9.4" fill="#15917c"/>
<rect x="451.95" y="117.1" width="0.9" height="10.1" fill="#15917c"/>
<rect x="451.4" y="123.8" width="2" height="2.7" fill="#15917c"/>
<rect x="454.85" y="123.8" width="0.9" height="10.8" fill="#dc444c"/>
<rect x="454.3" y="124.5" width="2" height="8.7" fill="#dc444c"/>
<rect x="457.95" y="127.8" width="0.9" height="9.5" fill="#dc444c"/>
<rect x="457.4" y="128.5" width="2" height="6.1" fill="#dc444c"/>
<rect x="460.85" y="125.2" width="0.9" height="10" fill="#15917c"/>
<rect x="460.3" y="130.5" width="2" height="3.4" fill="#15917c"/>
<rect x="463.85" y="123.8" width="0.9" height="9.4" fill="#15917c"/>
<rect x="463.3" y="129.2" width="2" height="2.7" fill="#15917c"/>
<rect x="466.95" y="119.8" width="0.9" height="18.8" fill="#dc444c"/>
<rect x="466.4" y="120.5" width="2" height="15.4" fill="#dc444c"/>
<rect x="469.85" y="122.5" width="0.9" height="10.7" fill="#15917c"/>
<rect x="469.3" y="124.5" width="2" height="7.4" fill="#15917c"/>
<rect x="472.85" y="129.2" width="0.9" height="18.8" fill="#dc444c"/>
<rect x="472.3" y="129.9" width="2" height="11.4" fill="#dc444c"/>
<rect x="475.85" y="133.9" width="0.9" height="6.1" fill="#15917c"/>
<rect x="475.3" y="134.6" width="2" height="4" fill="#15917c"/>
<rect x="478.75" y="131.2" width="0.9" height="8.1" fill="#15917c"/>
<rect x="478.2" y="131.9" width="2" height="6.7" fill="#15917c"/>
<rect x="481.75" y="127.2" width="0.9" height="10.1" fill="#15917c"/>
<rect x="481.2" y="129.2" width="2" height="6.7" fill="#15917c"/>
<rect x="484.55" y="125.8" width="0.9" height="10.1" fill="#15917c"/>
<rect x="484" y="129.2" width="2" height="2.7" fill="#15917c"/>
<rect x="487.55" y="125.8" width="0.9" height="26.9" fill="#dc444c"/>
<rect x="487" y="126.5" width="2" height="18.8" fill="#dc444c"/>
<rect x="490.55" y="138.6" width="0.9" height="16.1" fill="#dc444c"/>
<rect x="490" y="143.3" width="2" height="6.7" fill="#dc444c"/>
<rect x="493.55" y="142.6" width="0.9" height="12.1" fill="#15917c"/>
<rect x="493" y="144.6" width="2" height="6.1" fill="#15917c"/>
<rect x="496.55" y="142.6" width="0.9" height="24.2" fill="#15917c"/>
<rect x="496" y="145" width="2" height="6.4" fill="#15917c"/>
<rect x="499.55" y="142.5" width="0.9" height="12.5" fill="#dc444c"/>
<rect x="499" y="143.7" width="2" height="10" fill="#dc444c"/>
<rect x="502.75" y="152.4" width="0.9" height="25" fill="#dc444c"/>
<rect x="502.2" y="153.7" width="2" height="23.1" fill="#dc444c"/>
<rect x="505.85" y="175.6" width="0.9" height="20" fill="#dc444c"/>
<rect x="505.3" y="176.2" width="2" height="18.8" fill="#dc444c"/>
<rect x="508.85" y="179.3" width="0.9" height="16.3" fill="#15917c"/>
<rect x="508.3" y="180" width="2" height="15" fill="#15917c"/>
<rect x="511.85" y="168.7" width="0.9" height="11.8" fill="#15917c"/>
<rect x="511.3" y="171.8" width="2" height="8.2" fill="#15917c"/>
<rect x="514.75" y="166.2" width="0.9" height="6.3" fill="#15917c"/>
<rect x="514.2" y="167.5" width="2" height="3.7" fill="#15917c"/>
<rect x="517.75" y="160" width="0.9" height="12.5" fill="#15917c"/>
<rect x="517.2" y="161.2" width="2" height="10" fill="#15917c"/>
<rect x="520.85" y="147.5" width="0.9" height="19.3" fill="#15917c"/>
<rect x="520.3" y="157.5" width="2" height="4.3" fill="#15917c"/>
<rect x="523.85" y="151.2" width="0.9" height="17.5" fill="#15917c"/>
<rect x="523.3" y="152.5" width="2" height="5.6" fill="#15917c"/>
<rect x="526.85" y="153.7" width="0.9" height="10" fill="#dc444c"/>
<rect x="526.3" y="154.4" width="2" height="8.7" fill="#dc444c"/>
<rect x="529.85" y="160" width="0.9" height="7.5" fill="#15917c"/>
<rect x="529.3" y="160.6" width="2" height="2.5" fill="#15917c"/>
<rect x="532.75" y="159.3" width="0.9" height="6.3" fill="#dc444c"/>
<rect x="532.2" y="160" width="2" height="5" fill="#dc444c"/>
<rect x="535.65" y="161.8" width="0.9" height="3.8" fill="#dc444c"/>
<rect x="535.1" y="163.1" width="2" height="1.9" fill="#dc444c"/>
<rect x="538.65" y="163.1" width="0.9" height="7.5" fill="#15917c"/>
<rect x="538.1" y="164.3" width="2" height="1.3" fill="#15917c"/>
<rect x="541.75" y="160.6" width="0.9" height="5" fill="#15917c"/>
<rect x="541.2" y="163.1" width="2" height="1.9" fill="#15917c"/>
<rect x="544.75" y="161.2" width="0.9" height="5.6" fill="#dc444c"/>
<rect x="544.2" y="161.8" width="2" height="3.8" fill="#dc444c"/>
<rect x="547.75" y="161.2" width="0.9" height="4.4" fill="#15917c"/>
<rect x="547.2" y="161.8" width="2" height="1.9" fill="#15917c"/>
<rect x="550.65" y="155.6" width="0.9" height="7.5" fill="#15917c"/>
<rect x="550.1" y="156.2" width="2" height="6.3" fill="#15917c"/>
<rect x="553.65" y="151.2" width="0.9" height="11.9" fill="#15917c"/>
<rect x="553.1" y="155" width="2" height="4.3" fill="#15917c"/>
<rect x="556.75" y="151.8" width="0.9" height="11.9" fill="#dc444c"/>
<rect x="556.2" y="152.5" width="2" height="10" fill="#dc444c"/>
<rect x="559.75" y="162.5" width="0.9" height="6.2" fill="#dc444c"/>
<rect x="559.2" y="163.1" width="2" height="4.4" fill="#dc444c"/>
<rect x="562.75" y="156.8" width="0.9" height="10.7" fill="#15917c"/>
<rect x="562.2" y="157.5" width="2" height="7.5" fill="#15917c"/>
<rect x="565.85" y="156.2" width="0.9" height="28.1" fill="#dc444c"/>
<rect x="565.3" y="156.8" width="2" height="25.6" fill="#dc444c"/>
<rect x="568.75" y="176.2" width="0.9" height="10.6" fill="#dc444c"/>
<rect x="568.2" y="177" width="2" height="9" fill="#dc444c"/>
<rect x="570.55" y="176.2" width="0.9" height="10.6" fill="#dc444c"/>
<rect x="570" y="177.59" width="2" height="7.23" fill="#dc444c"/>
<rect x="573.55" y="183.4" width="0.9" height="7.7" fill="#dc444c"/>
<rect x="573" y="185.01" width="2" height="5.02" fill="#dc444c"/>
<rect x="576.55" y="181.5" width="0.9" height="34.5" fill="#dc444c"/>
<rect x="576" y="184.29" width="2" height="25.77" fill="#dc444c"/>
<rect x="579.55" y="191.1" width="0.9" height="19.2" fill="#dc444c"/>
<rect x="579" y="194.2" width="2" height="12.18" fill="#dc444c"/>
<rect x="582.55" y="198.8" width="0.9" height="17.2" fill="#15917c"/>
<rect x="582" y="203.78" width="2" height="8.23" fill="#15917c"/>
<rect x="585.85" y="198.8" width="0.9" height="34.5" fill="#dc444c"/>
<rect x="585.3" y="205.47" width="2" height="20.38" fill="#dc444c"/>
<rect x="588.95" y="220" width="0.9" height="13.3" fill="#15917c"/>
<rect x="588.4" y="223.04" width="2" height="9.04" fill="#15917c"/>
<rect x="591.95" y="208.4" width="0.9" height="23" fill="#15917c"/>
<rect x="591.4" y="214.79" width="2" height="10.82" fill="#15917c"/>
<rect x="595.25" y="218" width="0.9" height="34.5" fill="#dc444c"/>
<rect x="594.7" y="227.4" width="2" height="16.29" fill="#dc444c"/>
<rect x="598.35" y="241" width="0.9" height="41.2" fill="#15917c"/>
<rect x="597.8" y="247.85" width="2" height="27.44" fill="#15917c"/>
<rect x="601.35" y="229.5" width="0.9" height="42" fill="#15917c"/>
<rect x="600.8" y="233.82" width="2" height="28.46" fill="#15917c"/>
<rect x="604.25" y="225.7" width="0.9" height="17.3" fill="#15917c"/>
<rect x="603.7" y="227.32" width="2" height="14.04" fill="#15917c"/>
<rect x="607.15" y="229.5" width="0.9" height="11.5" fill="#dc444c"/>
<rect x="606.6" y="230.95" width="2" height="8.72" fill="#dc444c"/>
<rect x="610.05" y="220" width="0.9" height="13.3" fill="#15917c"/>
<rect x="609.5" y="222.06" width="2" height="10.02" fill="#15917c"/>
<rect x="613.25" y="208.4" width="0.9" height="15.3" fill="#15917c"/>
<rect x="612.7" y="209.62" width="2" height="12.34" fill="#15917c"/>
<rect x="616.35" y="195" width="0.9" height="15.3" fill="#15917c"/>
<rect x="615.8" y="196.57" width="2" height="11.29" fill="#15917c"/>
<rect x="619.25" y="185.4" width="0.9" height="21.1" fill="#15917c"/>
<rect x="618.7" y="187.21" width="2" height="13.55" fill="#15917c"/>
<rect x="622.35" y="198.8" width="0.9" height="11.7" fill="#dc444c"/>
<rect x="621.8" y="199.7" width="2" height="10.2" fill="#dc444c"/>
<rect x="625.45" y="207.5" width="0.9" height="10.2" fill="#dc444c"/>
<rect x="624.9" y="208.3" width="2" height="8.6" fill="#dc444c"/>
<rect x="628.55" y="215.4" width="0.9" height="19.6" fill="#dc444c"/>
<rect x="628" y="216.2" width="2" height="18" fill="#dc444c"/>
<rect x="631.65" y="230.3" width="0.9" height="11" fill="#dc444c"/>
<rect x="631.1" y="231.9" width="2" height="8.6" fill="#dc444c"/>
<rect x="634.75" y="235" width="0.9" height="14.2" fill="#15917c"/>
<rect x="634.2" y="236.6" width="2" height="6.2" fill="#15917c"/>
<rect x="637.75" y="233.5" width="0.9" height="11" fill="#15917c"/>
<rect x="637.2" y="234.2" width="2" height="5.5" fill="#15917c"/>
<rect x="640.65" y="232.7" width="0.9" height="10.1" fill="#15917c"/>
<rect x="640.1" y="233.5" width="2" height="2.3" fill="#15917c"/>
<rect x="643.75" y="233.5" width="0.9" height="19.6" fill="#dc444c"/>
<rect x="643.2" y="234.2" width="2" height="17.3" fill="#dc444c"/>
<rect x="646.75" y="237.4" width="0.9" height="14.9" fill="#15917c"/>
<rect x="646.2" y="238.2" width="2" height="11" fill="#15917c"/>
<rect x="649.75" y="200.4" width="0.9" height="41.7" fill="#15917c"/>
<rect x="649.2" y="202" width="2" height="39.3" fill="#15917c"/>
<rect x="652.65" y="196.5" width="0.9" height="18.1" fill="#dc444c"/>
<rect x="652.1" y="202" width="2" height="11" fill="#dc444c"/>
<rect x="655.55" y="205.9" width="0.9" height="9.5" fill="#15917c"/>
<rect x="655" y="206.7" width="2" height="6.3" fill="#15917c"/>
<rect x="658.35" y="205.9" width="0.9" height="11.1" fill="#15917c"/>
<rect x="657.8" y="206.7" width="2" height="7.1" fill="#15917c"/>
<rect x="661.55" y="206.7" width="0.9" height="11.8" fill="#dc444c"/>
<rect x="661" y="207.5" width="2" height="10.2" fill="#dc444c"/>
<rect x="664.45" y="212.2" width="0.9" height="19.7" fill="#dc444c"/>
<rect x="663.9" y="217.7" width="2" height="12.6" fill="#dc444c"/>
<rect x="667.45" y="222.5" width="0.9" height="6.3" fill="#15917c"/>
<rect x="666.9" y="223.2" width="2" height="4.8" fill="#15917c"/>
<rect x="670.55" y="218.5" width="0.9" height="6.3" fill="#15917c"/>
<rect x="670" y="219.3" width="2" height="3.9" fill="#15917c"/>
<rect x="673.45" y="219.3" width="0.9" height="13.4" fill="#dc444c"/>
<rect x="672.9" y="220.1" width="2" height="10.2" fill="#dc444c"/>
<rect x="676.45" y="216.2" width="0.9" height="14.9" fill="#15917c"/>
<rect x="675.9" y="217" width="2" height="12.5" fill="#15917c"/>
<rect x="679.45" y="217" width="0.9" height="10.2" fill="#dc444c"/>
<rect x="678.9" y="217.7" width="2" height="6.3" fill="#dc444c"/>
<rect x="682.45" y="210.7" width="0.9" height="14.1" fill="#15917c"/>
<rect x="681.9" y="212.2" width="2" height="11" fill="#15917c"/>
<rect x="685.55" y="202.8" width="0.9" height="11.8" fill="#15917c"/>
<rect x="685" y="203.6" width="2" height="9.4" fill="#15917c"/>
<rect x="688.45" y="196.9" width="0.9" height="9.8" fill="#15917c"/>
<rect x="687.9" y="197.3" width="2" height="6.3" fill="#15917c"/>
<rect x="691.35" y="170.8" width="0.9" height="32.6" fill="#15917c"/>
<rect x="690.8" y="174" width="2" height="24.5" fill="#15917c"/>
<rect x="694.35" y="165" width="0.9" height="12.3" fill="#15917c"/>
<rect x="693.8" y="167.5" width="2" height="6.5" fill="#15917c"/>
<rect x="697.25" y="146.3" width="0.9" height="23.7" fill="#15917c"/>
<rect x="696.7" y="154.5" width="2" height="14.7" fill="#15917c"/>
<rect x="700.25" y="148" width="0.9" height="15.4" fill="#dc444c"/>
<rect x="699.7" y="154.5" width="2" height="6.5" fill="#dc444c"/>
<rect x="703.25" y="150.5" width="0.9" height="11.5" fill="#15917c"/>
<rect x="702.7" y="152.8" width="2" height="6.6" fill="#15917c"/>
<rect x="706.35" y="145.5" width="0.9" height="16.3" fill="#dc444c"/>
<rect x="705.8" y="151.2" width="2" height="9.8" fill="#dc444c"/>
<rect x="709.45" y="147.1" width="0.9" height="13.9" fill="#15917c"/>
<rect x="708.9" y="148" width="2" height="9.7" fill="#15917c"/>
<rect x="712.45" y="156.2" width="0.9" height="21.8" fill="#dc444c"/>
<rect x="711.9" y="157" width="2" height="20.3" fill="#dc444c"/>
<rect x="715.55" y="171.6" width="0.9" height="7.3" fill="#15917c"/>
<rect x="715" y="173.2" width="2" height="4.9" fill="#15917c"/>
<rect x="718.55" y="171.6" width="0.9" height="10.6" fill="#dc444c"/>
<rect x="718" y="172.4" width="2" height="8.2" fill="#dc444c"/>
<rect x="721.45" y="179" width="0.9" height="7.3" fill="#dc444c"/>
<rect x="720.9" y="179.8" width="2" height="5.7" fill="#dc444c"/>
<rect x="724.35" y="184.7" width="0.9" height="10.6" fill="#dc444c"/>
<rect x="723.8" y="185.5" width="2" height="7.3" fill="#dc444c"/>
<rect x="727.25" y="187.1" width="0.9" height="6.5" fill="#15917c"/>
<rect x="726.7" y="189.5" width="2" height="3.3" fill="#15917c"/>
<rect x="730.15" y="189.5" width="0.9" height="9" fill="#dc444c"/>
<rect x="729.6" y="190.4" width="2" height="6.5" fill="#dc444c"/>
<rect x="733.15" y="179" width="0.9" height="17.9" fill="#15917c"/>
<rect x="732.6" y="179.8" width="2" height="15.5" fill="#15917c"/>
<rect x="736.35" y="177.3" width="0.9" height="22" fill="#dc444c"/>
<rect x="735.8" y="179" width="2" height="19.5" fill="#dc444c"/>
<rect x="739.35" y="196.9" width="0.9" height="14.7" fill="#dc444c"/>
<rect x="738.8" y="197.7" width="2" height="9" fill="#dc444c"/>
<rect x="742.35" y="191.2" width="0.9" height="15.5" fill="#15917c"/>
<rect x="741.8" y="192.8" width="2" height="13.1" fill="#15917c"/>
<rect x="745.45" y="161.8" width="0.9" height="31.8" fill="#15917c"/>
<rect x="744.9" y="169.2" width="2" height="23.6" fill="#15917c"/>
<rect x="748.35" y="159.4" width="0.9" height="11.4" fill="#15917c"/>
<rect x="747.8" y="163.4" width="2" height="5.8" fill="#15917c"/>
<rect x="751.25" y="158.5" width="0.9" height="12.3" fill="#15917c"/>
<rect x="750.7" y="165" width="2" height="4.2" fill="#15917c"/>
<rect x="754.15" y="160.2" width="0.9" height="24.5" fill="#dc444c"/>
<rect x="753.6" y="165.9" width="2" height="17.9" fill="#dc444c"/>
<rect x="757.35" y="178.8" width="0.9" height="34.5" fill="#dc444c"/>
<rect x="756.8" y="179.7" width="2" height="32.7" fill="#dc444c"/>
<rect x="760.35" y="203.6" width="0.9" height="19.4" fill="#15917c"/>
<rect x="759.8" y="204.5" width="2" height="7.9" fill="#15917c"/>
<rect x="763.45" y="205.3" width="0.9" height="12.4" fill="#dc444c"/>
<rect x="762.9" y="206.2" width="2" height="8" fill="#dc444c"/>
<rect x="766.45" y="208.9" width="0.9" height="22.1" fill="#dc444c"/>
<rect x="765.9" y="209.8" width="2" height="15" fill="#dc444c"/>
<rect x="769.45" y="213.3" width="0.9" height="13.2" fill="#dc444c"/>
<rect x="768.9" y="214.2" width="2" height="10.6" fill="#dc444c"/>
<rect x="772.35" y="208.9" width="0.9" height="28.2" fill="#15917c"/>
<rect x="771.8" y="213.3" width="2" height="11.5" fill="#15917c"/>
<rect x="775.45" y="205.3" width="0.9" height="14.2" fill="#dc444c"/>
<rect x="774.9" y="207.1" width="2" height="10.6" fill="#dc444c"/>
<rect x="778.45" y="211.5" width="0.9" height="22.1" fill="#dc444c"/>
<rect x="777.9" y="212.4" width="2" height="19.4" fill="#dc444c"/>
<rect x="781.45" y="216.8" width="0.9" height="15.9" fill="#15917c"/>
<rect x="780.9" y="218.6" width="2" height="13.2" fill="#15917c"/>
<rect x="784.45" y="216.8" width="0.9" height="7.1" fill="#dc444c"/>
<rect x="783.9" y="217.7" width="2" height="5.3" fill="#dc444c"/>
<rect x="787.45" y="220.4" width="0.9" height="11.4" fill="#dc444c"/>
<rect x="786.9" y="221.2" width="2" height="7.1" fill="#dc444c"/>
<rect x="790.45" y="222.1" width="0.9" height="8.9" fill="#dc444c"/>
<rect x="789.9" y="223" width="2" height="7.1" fill="#dc444c"/>
<rect x="793.45" y="224.8" width="0.9" height="10.6" fill="#15917c"/>
<rect x="792.9" y="226.5" width="2" height="3.6" fill="#15917c"/>
<rect x="796.45" y="226.5" width="0.9" height="11.5" fill="#dc444c"/>
<rect x="795.9" y="227.4" width="2" height="7.1" fill="#dc444c"/>
<rect x="799.45" y="228.3" width="0.9" height="18.6" fill="#15917c"/>
<rect x="798.9" y="230.1" width="2" height="4.4" fill="#15917c"/>
<rect x="802.45" y="223" width="0.9" height="8" fill="#15917c"/>
<rect x="801.9" y="225.7" width="2" height="4.4" fill="#15917c"/>
<rect x="805.45" y="222.1" width="0.9" height="12.4" fill="#dc444c"/>
<rect x="804.9" y="224.8" width="2" height="8.8" fill="#dc444c"/>
<rect x="808.35" y="231" width="0.9" height="17.6" fill="#dc444c"/>
<rect x="807.8" y="233.6" width="2" height="14.1" fill="#dc444c"/>
<rect x="811.25" y="235.4" width="0.9" height="21.2" fill="#15917c"/>
<rect x="810.7" y="239.8" width="2" height="7.9" fill="#15917c"/>
<rect x="814.05" y="235.4" width="0.9" height="17.6" fill="#dc444c"/>
<rect x="813.5" y="236.3" width="2" height="11.4" fill="#dc444c"/>
<rect x="817.05" y="226.5" width="0.9" height="16.8" fill="#15917c"/>
<rect x="816.5" y="228.3" width="2" height="11.5" fill="#15917c"/>
<rect x="820.15" y="225.7" width="0.9" height="6.1" fill="#15917c"/>
<rect x="819.6" y="226.5" width="2" height="3.6" fill="#15917c"/>
<rect x="823.25" y="220.9" width="0.9" height="6.8" fill="#15917c"/>
<rect x="822.7" y="224.2" width="2" height="2.1" fill="#15917c"/>
<path d="M7,36.5 C7.55,36.32 9.13,36.4 10.3,35.4 C11.47,34.4 12.85,31.67 14,30.5 C15.15,29.33 15.63,29.07 17.2,28.4 C18.77,27.73 21.1,26.88 23.4,26.5 C25.7,26.12 28.45,25.95 31,26.1 C33.55,26.25 35.87,26.62 38.7,27.4 C41.53,28.18 45.45,29.87 48,30.8 C50.55,31.73 51.7,32.55 54,33 C56.3,33.45 59.23,33.23 61.8,33.5 C64.37,33.77 66.87,34.1 69.4,34.6 C71.93,35.1 75.37,35.93 77,36.5 C78.63,37.07 77.82,37.48 79.2,38 C80.58,38.52 83.38,39.47 85.3,39.6 C87.22,39.73 89.03,39.43 90.7,38.8 C92.37,38.17 94.02,36.43 95.3,35.8 C96.58,35.17 96.78,35.38 98.4,35 C100.02,34.62 102.45,33.12 105,33.5 C107.55,33.88 111.2,36.35 113.7,37.3 C116.2,38.25 118.12,38.67 120,39.2 C121.88,39.73 123.27,40.07 125,40.5 C126.73,40.93 128.6,40.68 130.4,41.8 C132.2,42.92 134.02,45.07 135.8,47.2 C137.58,49.33 139.53,52.37 141.1,54.6 C142.67,56.83 143.73,58.87 145.2,60.6 C146.67,62.33 148.78,65.78 149.9,65 C151.02,64.22 151.23,59.65 151.9,55.9 C152.57,52.15 153.12,45.63 153.9,42.5 C154.68,39.37 155.6,38.22 156.6,37.1 C157.6,35.98 158.45,35.98 159.9,35.8 C161.35,35.62 163.72,35.78 165.3,36 C166.88,36.22 168.05,36.25 169.4,37.1 C170.75,37.95 171.83,38.97 173.4,41.1 C174.97,43.23 177.02,46.77 178.8,49.9 C180.58,53.03 182.32,56.22 184.1,59.9 C185.88,63.58 187.7,67.97 189.5,72 C191.3,76.03 193.38,80.6 194.9,84.1 C196.42,87.6 197.18,89.62 198.6,93 C200.02,96.38 202.02,100.77 203.4,104.4 C204.78,108.03 205.55,111.78 206.9,114.8 C208.25,117.82 209.45,120.9 211.5,122.5 C213.55,124.1 216.32,123.87 219.2,124.4 C222.08,124.93 226.08,125 228.8,125.7 C231.52,126.4 233.58,128.02 235.5,128.6 C237.42,129.18 237.88,129.15 240.3,129.2 C242.72,129.25 247.48,128.42 250,128.9 C252.52,129.38 253.83,131.12 255.4,132.1 C256.97,133.08 258.07,133.23 259.4,134.8 C260.73,136.37 261.83,139.48 263.4,141.5 C264.97,143.52 266.88,145.67 268.8,146.9 C270.72,148.13 273.1,147.78 274.9,148.9 C276.7,150.02 277.92,151.7 279.6,153.6 C281.28,155.5 283.22,158.07 285,160.3 C286.78,162.53 288.73,164.87 290.3,167 C291.87,169.13 292.6,171.42 294.4,173.1 C296.2,174.78 298.87,175.87 301.1,177.1 C303.33,178.33 306.02,179.48 307.8,180.5 C309.58,181.52 310.45,183.2 311.8,183.2 C313.15,183.2 314.55,181.85 315.9,180.5 C317.25,179.15 318.33,176.9 319.9,175.1 C321.47,173.3 323.73,171.72 325.3,169.7 C326.87,167.68 328.42,164.35 329.3,163 C330.18,161.65 329.18,162.07 330.6,161.6 C332.02,161.13 335.63,160.68 337.8,160.2 C339.97,159.72 342.17,159.48 343.6,158.7 C345.03,157.92 344.73,156.18 346.4,155.5 C348.07,154.82 351.17,154.43 353.6,154.6 C356.03,154.77 358.28,156.05 361,156.5 C363.72,156.95 366.5,157.22 369.9,157.3 C373.3,157.38 378.52,156.55 381.4,157 C384.28,157.45 385.6,158.72 387.2,160 C388.8,161.28 389.72,163.63 391,164.7 C392.28,165.77 393.4,166.78 394.9,166.4 C396.4,166.02 398.32,163.9 400,162.4 C401.68,160.9 403.33,159.07 405,157.4 C406.67,155.73 408.33,154.48 410,152.4 C411.67,150.32 413.33,147.6 415,144.9 C416.67,142.2 418.35,138.9 420,136.2 C421.65,133.5 423.25,131.2 424.9,128.7 C426.55,126.2 428.23,123.28 429.9,121.2 C431.57,119.12 433.23,117.55 434.9,116.2 C436.57,114.85 438.22,113.82 439.9,113.1 C441.58,112.38 443.02,111.98 445,111.9 C446.98,111.82 449.38,111.93 451.8,112.6 C454.22,113.27 456.87,114.58 459.5,115.9 C462.13,117.22 465.35,119.52 467.6,120.5 C469.85,121.48 470.75,121.47 473,121.8 C475.25,122.13 478.85,122.42 481.1,122.5 C483.35,122.58 484.93,122.53 486.5,122.3 C488.07,122.07 488.72,121.43 490.5,121.1 C492.28,120.77 495.75,120.68 497.2,120.3 C498.65,119.92 498.23,120.33 499.2,118.8 C500.17,117.27 501.72,112.95 503,111.1 C504.28,109.25 505.62,108.18 506.9,107.7 C508.18,107.22 508.78,107.63 510.7,108.2 C512.62,108.77 515.85,109.65 518.4,111.1 C520.95,112.55 523.77,114.98 526,116.9 C528.23,118.82 529.87,120.68 531.8,122.6 C533.73,124.52 535.68,126.17 537.6,128.4 C539.52,130.63 541.38,133.92 543.3,136 C545.22,138.08 547.17,139.62 549.1,140.9 C551.03,142.18 553.08,142.77 554.9,143.7 C556.72,144.63 558.18,145.57 560,146.5 C561.82,147.43 564.2,149.15 565.8,149.3 C567.4,149.45 568.33,148.35 569.6,147.4 C570.87,146.45 571.8,145.2 573.4,143.6 C575,142 577.6,138.92 579.2,137.8 C580.8,136.68 581.72,137.37 583,136.9 C584.28,136.43 585.3,135.38 586.9,135 C588.5,134.62 590.85,134.87 592.6,134.6 C594.35,134.33 595.8,133.02 597.4,133.4 C599,133.78 600.43,134.72 602.2,136.9 C603.97,139.08 606.08,142.98 608,146.5 C609.92,150.02 611.78,154.48 613.7,158 C615.62,161.52 617.57,164.08 619.5,167.6 C621.43,171.12 623.38,175.27 625.3,179.1 C627.22,182.93 629.08,187.88 631,190.6 C632.92,193.32 634.55,193.8 636.8,195.4 C639.05,197 642.68,199.5 644.5,200.2 C646.32,200.9 646.43,200.33 647.7,199.6 C648.97,198.87 650.18,196.75 652.1,195.8 C654.02,194.85 656.42,194.38 659.2,193.9 C661.98,193.42 665.92,192.58 668.8,192.9 C671.68,193.22 674.58,194.67 676.5,195.8 C678.42,196.93 678.72,199.38 680.3,199.7 C681.88,200.02 684.38,199.15 686,197.7 C687.62,196.25 688.72,194.35 690,191 C691.28,187.65 692.43,182.4 693.7,177.6 C694.97,172.8 696,167 697.6,162.2 C699.2,157.4 701.38,152.32 703.3,148.8 C705.22,145.28 706.85,142.92 709.1,141.1 C711.35,139.28 714.23,138.38 716.8,137.9 C719.37,137.42 721.95,137.67 724.5,138.2 C727.05,138.73 730.1,140.32 732.1,141.1 C734.1,141.88 734.48,141.97 736.5,142.9 C738.52,143.83 741.32,146.22 744.2,146.7 C747.08,147.18 750.92,145.48 753.8,145.8 C756.68,146.12 759.27,147.17 761.5,148.6 C763.73,150.03 765.28,152.63 767.2,154.4 C769.12,156.17 771.08,158.08 773,159.2 C774.92,160.32 776.15,160.47 778.7,161.1 C781.25,161.73 785.73,162.2 788.3,163 C790.87,163.8 791.85,165.1 794.1,165.9 C796.35,166.7 799.57,166.03 801.8,167.8 C804.03,169.57 805.9,173.13 807.5,176.5 C809.1,179.87 810.27,183.85 811.4,188 C812.53,192.15 813.35,198.52 814.3,201.4 C815.25,204.28 815.53,203.85 817.1,205.3 C818.67,206.75 822.6,209.3 823.7,210.1" fill="none" stroke="#dc3f4e" stroke-width="0.95"/>
<path d="M7,68.8 C9.73,67.7 18.63,64.83 23.4,62.2 C28.17,59.57 33.05,54.92 35.6,53 C38.15,51.08 36.63,51.33 38.7,50.7 C40.77,50.07 44.45,49.58 48,49.2 C51.55,48.82 56.72,48.33 60,48.4 C63.28,48.47 64.5,49.28 67.7,49.6 C70.9,49.92 76,49.98 79.2,50.3 C82.4,50.62 84.35,50.72 86.9,51.5 C89.45,52.28 91.95,53.92 94.5,55 C97.05,56.08 99.75,56.92 102.2,58 C104.65,59.08 106.12,59.95 109.2,61.5 C112.28,63.05 117.5,65.7 120.7,67.3 C123.9,68.9 125.85,69.7 128.4,71.1 C130.95,72.5 133.45,73.9 136,75.7 C138.55,77.5 141.77,80.35 143.7,81.9 C145.63,83.45 146.18,83.47 147.6,85 C149.02,86.53 150.67,88.8 152.2,91.1 C153.73,93.4 155,95.72 156.8,98.8 C158.6,101.88 161.2,106.53 163,109.6 C164.8,112.67 166.13,114.63 167.6,117.2 C169.07,119.77 170.13,122.12 171.8,125 C173.47,127.88 175.35,131 177.6,134.5 C179.85,138 182.73,142.47 185.3,146 C187.87,149.53 190.45,153.13 193,155.7 C195.55,158.27 197.83,159.58 200.6,161.4 C203.37,163.22 206.5,165.88 209.6,166.6 C212.7,167.32 216,166.33 219.2,165.7 C222.4,165.07 226.08,163.92 228.8,162.8 C231.52,161.68 233.42,159.55 235.5,159 C237.58,158.45 239.27,158.7 241.3,159.5 C243.33,160.3 246.25,162.93 247.7,163.8 C249.15,164.67 248.4,163.42 250,164.7 C251.6,165.98 254.48,168.78 257.3,171.5 C260.12,174.22 263.7,178.12 266.9,181 C270.1,183.88 273.32,186.38 276.5,188.8 C279.68,191.22 282.48,193.42 286,195.5 C289.52,197.58 294.07,199.87 297.6,201.3 C301.13,202.73 304.32,203.63 307.2,204.1 C310.08,204.57 312.77,204.62 314.9,204.1 C317.03,203.58 317.98,202.35 320,201 C322.02,199.65 324.5,198 327,196 C329.5,194 332.33,191.02 335,189 C337.67,186.98 340.38,185.23 343,183.9 C345.62,182.57 348.13,181.73 350.7,181 C353.27,180.27 355.2,179.75 358.4,179.5 C361.6,179.25 366.07,179.25 369.9,179.5 C373.73,179.75 377.88,180.27 381.4,181 C384.92,181.73 388.43,183.47 391,183.9 C393.57,184.33 395.3,183.68 396.8,183.6 C398.3,183.52 398.5,183.47 400,183.4 C401.5,183.33 403.57,183.72 405.8,183.2 C408.03,182.68 410.85,181.65 413.4,180.3 C415.95,178.95 418.53,177.25 421.1,175.1 C423.67,172.95 425.92,170.28 428.8,167.4 C431.68,164.52 435.2,160.83 438.4,157.8 C441.6,154.77 444.8,152.07 448,149.2 C451.2,146.33 454.4,143 457.6,140.6 C460.8,138.2 463.47,136.25 467.2,134.8 C470.93,133.35 476.35,132.38 480,131.9 C483.65,131.42 486.68,131.57 489.1,131.9 C491.52,132.23 493.02,133.33 494.5,133.9 C495.98,134.47 496.17,134.28 498,135.3 C499.83,136.32 502.8,138.18 505.5,140 C508.2,141.82 511.28,144.33 514.2,146.2 C517.12,148.07 520.08,149.53 523,151.2 C525.92,152.87 528.8,154.53 531.7,156.2 C534.6,157.87 537.68,160.05 540.4,161.2 C543.12,162.35 545.5,162.58 548,163.1 C550.5,163.62 552.9,163.98 555.4,164.3 C557.9,164.62 560.9,164.78 563,165 C565.1,165.22 566.58,165.48 568,165.6 C569.42,165.72 569.63,164.88 571.5,165.7 C573.37,166.52 576.35,168.32 579.2,170.5 C582.05,172.68 585.43,175.55 588.6,178.8 C591.77,182.05 595,186.38 598.2,190 C601.4,193.62 604.88,197.37 607.8,200.5 C610.72,203.63 614.13,207.17 615.7,208.8 C617.27,210.43 615.35,208.93 617.2,210.3 C619.05,211.67 623.6,214.92 626.8,217 C630,219.08 634.2,221.7 636.4,222.8 C638.6,223.9 638.73,223.02 640,223.6 C641.27,224.18 642.72,225.67 644,226.3 C645.28,226.93 646.2,227.43 647.7,227.4 C649.2,227.37 651.12,226.75 653,226.1 C654.88,225.45 657,224.08 659,223.5 C661,222.92 662.42,222.58 665,222.6 C667.58,222.62 671.32,223.43 674.5,223.6 C677.68,223.77 681.52,224.13 684.1,223.6 C686.68,223.07 687.75,222.55 690,220.4 C692.25,218.25 695.05,213.93 697.6,210.7 C700.15,207.47 702.73,203.88 705.3,201 C707.87,198.12 710.45,195.38 713,193.4 C715.55,191.42 718.05,190.45 720.6,189.1 C723.15,187.75 725.97,186.6 728.3,185.3 C730.63,184 731.95,182.62 734.6,181.3 C737.25,179.98 741.32,178.27 744.2,177.4 C747.08,176.53 749.82,176.1 751.9,176.1 C753.98,176.1 755.22,176.2 756.7,177.4 C758.18,178.6 758.63,181 760.8,183.3 C762.97,185.6 766.75,189 769.7,191.2 C772.65,193.4 775.57,194.73 778.5,196.5 C781.43,198.27 784.35,200.03 787.3,201.8 C790.25,203.57 793.55,205.33 796.2,207.1 C798.85,208.87 800.85,210.05 803.2,212.4 C805.55,214.75 808.23,219.13 810.3,221.2 C812.37,223.27 813.83,223.87 815.6,224.8 C817.37,225.73 819.55,226.38 820.9,226.8 C822.25,227.22 823.23,227.22 823.7,227.3" fill="none" stroke="#3660d8" stroke-width="0.95"/>
<path d="M7,98.6 C8.12,98.53 11.47,98.58 13.7,98.2 C15.93,97.82 18.48,97.27 20.4,96.3 C22.32,95.33 23.43,94.32 25.2,92.4 C26.97,90.48 29.4,87.2 31,84.8 C32.6,82.4 33.53,80.53 34.8,78 C36.07,75.47 37.32,71.3 38.6,69.6 C39.88,67.9 40.73,68.47 42.5,67.8 C44.27,67.13 46.97,66.33 49.2,65.6 C51.43,64.87 53.98,63.83 55.9,63.4 C57.82,62.97 59.35,62.93 60.7,63 C62.05,63.07 62.83,63.55 64,63.8 C65.17,64.05 65.82,64.32 67.7,64.5 C69.58,64.68 72.75,64.9 75.3,64.9 C77.85,64.9 80.68,64.43 83,64.5 C85.32,64.57 87.78,64.85 89.2,65.3 C90.62,65.75 90.6,65.97 91.5,67.2 C92.4,68.43 93.32,70.63 94.6,72.7 C95.88,74.77 97.67,77.68 99.2,79.6 C100.73,81.52 102.13,82.8 103.8,84.2 C105.47,85.6 107.4,86.98 109.2,88 C111,89.02 112.93,89.4 114.6,90.3 C116.27,91.2 117.93,92.62 119.2,93.4 C120.47,94.18 121.05,94.1 122.2,95 C123.35,95.9 124.42,97.08 126.1,98.8 C127.78,100.52 130.12,104.22 132.3,105.3 C134.48,106.38 137.03,105.48 139.2,105.3 C141.37,105.12 143.92,104.08 145.3,104.2 C146.68,104.32 146.72,104.7 147.5,106 C148.28,107.3 149.08,108.83 150,112 C150.92,115.17 152.17,119.5 153,125 C153.83,130.5 154.1,137.33 155,145 C155.9,152.67 157.07,163.97 158.4,171 C159.73,178.03 161.47,182.2 163,187.2 C164.53,192.2 166.27,196.37 167.6,201 C168.93,205.63 170.13,211.33 171,215 C171.87,218.67 171.63,219.23 172.8,223 C173.97,226.77 176.5,234.37 178,237.6 C179.5,240.83 180.2,241.77 181.8,242.4 C183.4,243.03 185.35,242.52 187.6,241.4 C189.85,240.28 192.73,238.9 195.3,235.7 C197.87,232.5 200.45,226.05 203,222.2 C205.55,218.35 208.53,215.63 210.6,212.6 C212.67,209.57 213.8,205.6 215.4,204 C217,202.4 218.43,203.17 220.2,203 C221.97,202.83 224.57,203.78 226,203 C227.43,202.22 227.38,200.2 228.8,198.3 C230.22,196.4 232.75,193.03 234.5,191.6 C236.25,190.17 237.7,189.55 239.3,189.7 C240.9,189.85 242.32,191.23 244.1,192.5 C245.88,193.77 248.07,195.55 250,197.3 C251.93,199.05 253.85,200.42 255.7,203 C257.55,205.58 259.23,209.73 261.1,212.8 C262.97,215.87 264.98,218.53 266.9,221.4 C268.82,224.27 270.68,227.75 272.6,230 C274.52,232.25 276.48,233.77 278.4,234.9 C280.32,236.03 281.87,236.97 284.1,236.8 C286.33,236.63 289.55,234.87 291.8,233.9 C294.05,232.93 295.03,231.97 297.6,231 C300.17,230.03 304.63,228.9 307.2,228.1 C309.77,227.3 311.08,226.2 313,226.2 C314.92,226.2 316.95,227.47 318.7,228.1 C320.45,228.73 321.9,230.47 323.5,230 C325.1,229.53 326.55,226.73 328.3,225.3 C330.05,223.87 332.05,223.17 334,221.4 C335.95,219.63 337.53,216.6 340,214.7 C342.47,212.8 345.73,211.78 348.8,210 C351.87,208.22 355.53,205.32 358.4,204 C361.27,202.68 363.45,202.1 366,202.1 C368.55,202.1 370.82,203.35 373.7,204 C376.58,204.65 380.1,206 383.3,206 C386.5,206 390.12,204.13 392.9,204 C395.68,203.87 398.18,205 400,205.2 C401.82,205.4 402.2,204.62 403.8,205.2 C405.4,205.78 407.67,207.42 409.6,208.7 C411.53,209.98 413.63,212.03 415.4,212.9 C417.17,213.77 418.6,213.97 420.2,213.9 C421.8,213.83 423.25,213.53 425,212.5 C426.75,211.47 428.78,209.62 430.7,207.7 C432.62,205.78 434.58,203.72 436.5,201 C438.42,198.28 440.28,194.9 442.2,191.4 C444.12,187.9 446.08,183.83 448,180 C449.92,176.17 451.78,171.93 453.7,168.4 C455.62,164.87 457.57,161.83 459.5,158.8 C461.43,155.77 463.38,152.77 465.3,150.2 C467.22,147.63 469.08,145 471,143.4 C472.92,141.8 475.2,141.25 476.8,140.6 C478.4,139.95 479,139.68 480.6,139.5 C482.2,139.32 484.8,139.12 486.4,139.5 C488,139.88 488.93,140.77 490.2,141.8 C491.47,142.83 492.37,143.5 494,145.7 C495.63,147.9 498.17,150.12 500,155 C501.83,159.88 503.25,170.63 505,175 C506.75,179.37 508.55,179.13 510.5,181.2 C512.45,183.27 514.62,186.15 516.7,187.4 C518.78,188.65 520.92,188.38 523,188.7 C525.08,189.02 527.12,189.1 529.2,189.3 C531.28,189.5 533.83,189.8 535.5,189.9 C537.17,190 537.95,190.22 539.2,189.9 C540.45,189.58 541.53,188.62 543,188 C544.47,187.38 546.13,186.82 548,186.2 C549.87,185.58 552.13,184.93 554.2,184.3 C556.27,183.67 558.73,182.92 560.4,182.4 C562.07,181.88 563.18,181.27 564.2,181.2 C565.22,181.13 565.67,181.3 566.5,182 C567.33,182.7 567.78,183.57 569.2,185.4 C570.62,187.23 572.77,189.17 575,193 C577.23,196.83 580.37,203.28 582.6,208.4 C584.83,213.52 586.8,219.22 588.4,223.7 C590,228.18 590.93,231.25 592.2,235.3 C593.47,239.35 594.58,244.15 596,248 C597.42,251.85 599.15,255.77 600.7,258.4 C602.25,261.03 603.75,262.47 605.3,263.8 C606.85,265.13 608.47,266.28 610,266.4 C611.53,266.52 612.97,265.57 614.5,264.5 C616.03,263.43 617.78,261.78 619.2,260 C620.62,258.22 621.73,255.35 623,253.8 C624.27,252.25 625.4,251.27 626.8,250.7 C628.2,250.13 629.87,250.02 631.4,250.4 C632.93,250.78 634.2,252.18 636,253 C637.8,253.82 640.15,254.53 642.2,255.3 C644.25,256.07 646.5,257.08 648.3,257.6 C650.1,258.12 651.5,258.95 653,258.4 C654.5,257.85 655.63,255.47 657.3,254.3 C658.97,253.13 660.77,252.03 663,251.4 C665.23,250.77 668.13,250.75 670.7,250.5 C673.27,250.25 676.17,249.9 678.4,249.9 C680.63,249.9 682.17,249.93 684.1,250.5 C686.03,251.07 688.07,252.18 690,253.3 C691.93,254.42 693.8,256.23 695.7,257.2 C697.6,258.17 699.65,259.42 701.4,259.1 C703.15,258.78 704.6,256.42 706.2,255.3 C707.8,254.18 709.23,253.37 711,252.4 C712.77,251.43 714.88,250.78 716.8,249.5 C718.72,248.22 720.58,246.95 722.5,244.7 C724.42,242.45 726.38,239.2 728.3,236 C730.22,232.8 732.32,228.7 734,225.5 C735.68,222.3 736.7,219.22 738.4,216.8 C740.1,214.38 742.27,212.45 744.2,211 C746.13,209.55 748.08,208.48 750,208.1 C751.92,207.72 754.03,207.72 755.7,208.7 C757.37,209.68 758.52,212.07 760,214 C761.48,215.93 763.07,218.35 764.6,220.3 C766.13,222.25 767.67,224.03 769.2,225.7 C770.73,227.37 772.27,228.63 773.8,230.3 C775.33,231.97 776.6,233.9 778.4,235.7 C780.2,237.5 782.55,239.18 784.6,241.1 C786.65,243.02 788.65,245.28 790.7,247.2 C792.75,249.12 795.1,251.18 796.9,252.6 C798.7,254.02 799.98,255.07 801.5,255.7 C803.02,256.33 804.72,256.53 806,256.4 C807.28,256.27 808.28,255.67 809.2,254.9 C810.12,254.13 810.73,252.95 811.5,251.8 C812.27,250.65 813.17,248.82 813.8,248 C814.43,247.18 814.27,247.28 815.3,246.9 C816.33,246.52 818.6,245.95 820,245.7 C821.4,245.45 823.08,245.45 823.7,245.4" fill="none" stroke="#11917b" stroke-width="0.95"/>
<line x1="8.5" y1="224.2" x2="971" y2="224.2" stroke="#089981" stroke-opacity="0.75" stroke-width="1" stroke-dasharray="1 2"/>
<rect x="137.9" y="121.95" width="715.3" height="6.55" fill="#00bcd4" fill-opacity="0.05" stroke="#ff7fbf" stroke-opacity="0.22" stroke-width="4"/>
<rect x="137.9" y="121.95" width="715.3" height="6.55" fill="none" stroke="#bc4a80" stroke-width="1.7"/>
<rect x="123" y="250.95" width="765.9" height="6.45" fill="#00bcd4" fill-opacity="0.05" stroke="#ff7fbf" stroke-opacity="0.22" stroke-width="4"/>
<rect x="123" y="250.95" width="765.9" height="6.45" fill="none" stroke="#bc4a80" stroke-width="1.7"/>
</g>
<text x="13.9" y="36.8" font-size="9.2" fill="#131722" font-family="Liberation Sans, Arial, sans-serif" textLength="180.8" lengthAdjust="spacingAndGlyphs" stroke="#131722" stroke-width="0.22">XRPUSD · XRP / U.S. Dollar · 4h · Coinbase</text>
<text x="200.9" y="36.8" font-size="9.2" fill="#131722" font-family="Liberation Sans, Arial, sans-serif" stroke="#131722" stroke-width="0.22">O</text>
<text x="236.9" y="36.8" font-size="9.2" fill="#089981" font-family="Liberation Sans, Arial, sans-serif" text-anchor="end" stroke="#089981" stroke-width="0.12">2.2627</text>
<text x="242.8" y="36.8" font-size="9.2" fill="#131722" font-family="Liberation Sans, Arial, sans-serif" stroke="#131722" stroke-width="0.22">H</text>
<text x="278.75" y="36.8" font-size="9.2" fill="#089981" font-family="Liberation Sans, Arial, sans-serif" text-anchor="end" stroke="#089981" stroke-width="0.12">2.2825</text>
<text x="285" y="36.8" font-size="9.2" fill="#131722" font-family="Liberation Sans, Arial, sans-serif" stroke="#131722" stroke-width="0.22">L</text>
<text x="318.8" y="36.8" font-size="9.2" fill="#089981" font-family="Liberation Sans, Arial, sans-serif" text-anchor="end" stroke="#089981" stroke-width="0.12">2.2575</text>
<text x="324.8" y="36.8" font-size="9.2" fill="#131722" font-family="Liberation Sans, Arial, sans-serif" stroke="#131722" stroke-width="0.22">C</text>
<text x="360.3" y="36.8" font-size="9.2" fill="#089981" font-family="Liberation Sans, Arial, sans-serif" text-anchor="end" stroke="#089981" stroke-width="0.12">2.2704</text>
<text x="366.6" y="36.8" font-size="9.2" fill="#089981" font-family="Liberation Sans, Arial, sans-serif" textLength="77" lengthAdjust="spacingAndGlyphs" stroke="#089981" stroke-width="0.12">+0.0078 (+0.34%)</text>
<text x="449.8" y="36.8" font-size="9.2" fill="#131722" font-family="Liberation Sans, Arial, sans-serif" stroke="#131722" stroke-width="0.22">Vol</text>
<text x="490" y="36.8" font-size="9.2" fill="#089981" font-family="Liberation Sans, Arial, sans-serif" text-anchor="end" stroke="#089981" stroke-width="0.12">3.07M</text>
<text x="13.9" y="49.6" font-size="9.2" fill="#131722" font-family="Liberation Sans, Arial, sans-serif" textLength="37.6" lengthAdjust="spacingAndGlyphs" stroke="#131722" stroke-width="0.22">Vol · XRP</text>
<text x="57.8" y="49.6" font-size="9.2" fill="#4fb3a3" font-family="Liberation Sans, Arial, sans-serif" textLength="27.3" lengthAdjust="spacingAndGlyphs" stroke="#4fb3a3" stroke-width="0.1">3.07M</text>
<text x="13.9" y="62.4" font-size="9.2" fill="#131722" font-family="Liberation Sans, Arial, sans-serif" textLength="94.1" lengthAdjust="spacingAndGlyphs" stroke="#131722" stroke-width="0.22">BB (20, SMA, close, 2)</text>
<text x="115" y="62.4" font-size="9.2" fill="#2962FF" font-family="Liberation Sans, Arial, sans-serif" textLength="28.9" lengthAdjust="spacingAndGlyphs" stroke="#2962FF" stroke-width="0.1">2.2584</text>
<text x="151" y="62.4" font-size="9.2" fill="#F23645" font-family="Liberation Sans, Arial, sans-serif" textLength="29" lengthAdjust="spacingAndGlyphs" stroke="#F23645" stroke-width="0.1">2.3226</text>
<text x="185.8" y="62.4" font-size="9.2" fill="#089981" font-family="Liberation Sans, Arial, sans-serif" textLength="28.1" lengthAdjust="spacingAndGlyphs" stroke="#089981" stroke-width="0.1">2.1942</text>
<g clip-path="url(#cmfclip)">
<line x1="8.5" y1="424.5" x2="971" y2="424.5" stroke="#a0a3ab" stroke-width="1" stroke-dasharray="3 3"/>
<path d="M8,410.5 L12.1,414.2 L16.2,409.5 L20.3,407.4 L24.4,408.9 L28.5,408 L32.6,409.5 L36.7,409.5 L41.8,415.6 L45.9,414.6 L51.1,414.6 L55.2,416.3 L59.3,416.7 L62.3,418.7 L66.5,427.5 L70.6,425.3 L74.7,420.8 L77.7,423.2 L80.8,431 L83.9,428.6 L89,429 L92.1,432 L96.2,436.1 L102.3,439.2 L107.5,441.3 L110.5,444.3 L113.6,441.3 L116.7,444.3 L120.8,443.7 L124.9,442.3 L129,443.3 L133.1,442.9 L135.6,448 L139.3,445 L143.4,442.9 L149.5,445.4 L152.6,421.8 L155.7,420.4 L159.8,419.1 L163.9,417.1 L168,419.1 L172.1,418.3 L178.2,416.7 L184.4,412.6 L190.5,412.1 L196.7,410.9 L202.8,410.5 L210,409.5 L213.1,415 L216.2,415.6 L219.2,409.5 L223.3,413 L226.4,413.6 L229.5,412.1 L233.6,412.6 L237.7,416.7 L242.8,421.8 L245.9,426.5 L251,423.8 L256.1,430.6 L260.2,427.9 L266.4,432.5 L272.6,418.7 L275.6,420.4 L278.7,428.4 L282.8,424.9 L285.9,426.5 L290,424.5 L292,425.9 L296.1,423.8 L300.2,418.7 L304.3,420.8 L309.5,418.3 L312.5,420.8 L316.6,410.1 L320.7,413.6 L323.8,413.6 L326.9,406.8 L330,410.5 L333.1,420.8 L335.5,420.8 L339.2,414.6 L342.3,414.6 L344.3,410.5 L349.5,415.6 L353.6,418.3 L357.7,418.3 L362.8,417.1 L366.9,420.4 L374.1,416.3 L378.2,420.4 L384.3,420.4 L387.4,419.1 L390.5,420.4 L394.6,414.2 L398.7,415 L403.8,417.1 L410,412.1 L416.2,409.5 L422.3,412.6 L426.4,410.1 L430.5,411.5 L434.6,416.3 L437.7,413.6 L442.8,418.3 L446.9,418.7 L450,416.3 L455.1,422.8 L459.2,422.4 L464.3,426.5 L468.5,430 L471.5,429.4 L475.6,432.7 L481.8,429.6 L486.9,433.1 L491,436.8 L496.1,432.7 L500.2,431.6 L506.4,439.2 L512.5,435.1 L520.7,433.1 L524.8,429 L530,428.6 L535.1,429 L543.3,429 L547.4,426.5 L551.5,421.2 L554.6,423.8 L556.6,427.5 L559.7,426.9 L562.8,419.7 L565.9,415.6 L570,422.4 L574.1,425.3 L578.2,434.7 L582.3,430 L586.4,435.1 L590.5,431.4 L593.6,431 L596.6,438.2 L601.8,421.8 L606.9,421.2 L611,419.7 L614.1,416.7 L619.2,417.3 L624.4,418.3 L626.4,417.1 L631.5,422.2 L637.7,415.6 L642.8,417.7 L645.9,412.6 L650,408.9 L653.1,410.5 L655.5,403.9 L659.2,409.5 L663.3,413.6 L668.5,414.6 L671.5,415.6 L673.6,419.7 L677.7,418.3 L681.8,416.3 L685.9,412.6 L690,403.3 L693.1,397.2 L698.2,397.8 L701.3,399.8 L704.3,399.2 L707.4,409.5 L710.5,418.7 L715.6,417.3 L719.7,421.2 L724.8,421.8 L729,423.2 L733.1,421.8 L738.2,427.9 L742.3,426.5 L748.4,424.9 L752.5,432 L757.7,441.3 L760.7,439.8 L763.8,441.3 L766.9,437.2 L770,436.1 L773,429.4 L778.2,429 L784.3,426.5 L791.5,426.9 L798.7,420.4 L803.8,422.8 L808.5,426.9 L813,420.8 L816.1,409.5 L817.4,408 L823.6,407.4" fill="none" stroke="#43A047" stroke-width="1"/>
<line x1="583.3" y1="441.7" x2="749.5" y2="401.7" stroke="#82222f" stroke-width="1.8"/>
<line x1="745.4" y1="450.9" x2="859.9" y2="409.9" stroke="#82222f" stroke-width="1.8"/>
</g>
<text x="13.7" y="407.2" font-size="9.2" fill="#131722" font-family="Liberation Sans, Arial, sans-serif" textLength="39" lengthAdjust="spacingAndGlyphs" stroke="#131722" stroke-width="0.22">CMF (20)</text>
<text x="59.3" y="407.2" font-size="9.2" fill="#43A047" font-family="Liberation Sans, Arial, sans-serif" textLength="18" lengthAdjust="spacingAndGlyphs" stroke="#43A047" stroke-width="0.08">0.25</text>
<rect x="7.5" y="20.5" width="1008.5" height="454.5" fill="none" stroke="#e6e7ea" stroke-width="1"/>
<line x1="971.5" y1="20.5" x2="971.5" y2="475" stroke="#e6e7ea" stroke-width="1"/>
<line x1="7.5" y1="390.5" x2="1016" y2="390.5" stroke="#e6e7ea" stroke-width="1"/>
<line x1="7.5" y1="454.5" x2="1016" y2="454.5" stroke="#e6e7ea" stroke-width="1"/>
<text x="978.6" y="75.83" font-size="10" fill="#131722" font-family="Liberation Sans, Arial, sans-serif" textLength="30.3" lengthAdjust="spacingAndGlyphs" stroke="#131722" stroke-width="0.1">2.9000</text>
<text x="978.6" y="120.19" font-size="10" fill="#131722" font-family="Liberation Sans, Arial, sans-serif" textLength="30.3" lengthAdjust="spacingAndGlyphs" stroke="#131722" stroke-width="0.1">2.7000</text>
<text x="978.6" y="143.62" font-size="10" fill="#131722" font-family="Liberation Sans, Arial, sans-serif" textLength="30.3" lengthAdjust="spacingAndGlyphs" stroke="#131722" stroke-width="0.1">2.6000</text>
<text x="978.6" y="167.97" font-size="10" fill="#131722" font-family="Liberation Sans, Arial, sans-serif" textLength="30.3" lengthAdjust="spacingAndGlyphs" stroke="#131722" stroke-width="0.1">2.5000</text>
<text x="978.6" y="193.31" font-size="10" fill="#131722" font-family="Liberation Sans, Arial, sans-serif" textLength="30.3" lengthAdjust="spacingAndGlyphs" stroke="#131722" stroke-width="0.1">2.4000</text>
<text x="978.6" y="219.73" font-size="10" fill="#131722" font-family="Liberation Sans, Arial, sans-serif" textLength="30.3" lengthAdjust="spacingAndGlyphs" stroke="#131722" stroke-width="0.1">2.3000</text>
<text x="978.6" y="247.33" font-size="10" fill="#131722" font-family="Liberation Sans, Arial, sans-serif" textLength="30.3" lengthAdjust="spacingAndGlyphs" stroke="#131722" stroke-width="0.1">2.2000</text>
<text x="978.6" y="276.21" font-size="10" fill="#131722" font-family="Liberation Sans, Arial, sans-serif" textLength="30.3" lengthAdjust="spacingAndGlyphs" stroke="#131722" stroke-width="0.1">2.1000</text>
<text x="978.6" y="306.49" font-size="10" fill="#131722" font-family="Liberation Sans, Arial, sans-serif" textLength="30.3" lengthAdjust="spacingAndGlyphs" stroke="#131722" stroke-width="0.1">2.0000</text>
<text x="978.6" y="331.84" font-size="10" fill="#131722" font-family="Liberation Sans, Arial, sans-serif" textLength="30.3" lengthAdjust="spacingAndGlyphs" stroke="#131722" stroke-width="0.1">1.9200</text>
<text x="978.6" y="358.26" font-size="10" fill="#131722" font-family="Liberation Sans, Arial, sans-serif" textLength="30.3" lengthAdjust="spacingAndGlyphs" stroke="#131722" stroke-width="0.1">1.8400</text>
<text x="978.6" y="382.34" font-size="10" fill="#131722" font-family="Liberation Sans, Arial, sans-serif" textLength="30.3" lengthAdjust="spacingAndGlyphs" stroke="#131722" stroke-width="0.1">1.7700</text>
<text x="978.3" y="428.1" font-size="10" fill="#131722" font-family="Liberation Sans, Arial, sans-serif" textLength="18.6" lengthAdjust="spacingAndGlyphs" stroke="#131722" stroke-width="0.1">0.00</text>
<rect x="974.5" y="23.5" width="38" height="19" rx="2" fill="#ffffff" stroke="#f0f3fa" stroke-width="1"/>
<text x="980.9" y="36.6" font-size="9.8" fill="#131722" font-family="Liberation Sans, Arial, sans-serif" textLength="18.8" lengthAdjust="spacingAndGlyphs" stroke="#131722" stroke-width="0.18">USD</text>
<rect x="972" y="217.5" width="41.4" height="12.4" rx="1.5" fill="#26a69a"/>
<text x="979.1" y="227.3" font-size="9.2" fill="#ffffff" font-family="Liberation Sans, Arial, sans-serif" textLength="29.3" lengthAdjust="spacingAndGlyphs" stroke="#ffffff" stroke-width="0.22">2.2704</text>
<text x="36.4" y="469.3" font-size="9.8" fill="#222630" font-family="Liberation Sans, Arial, sans-serif" text-anchor="middle">4</text>
<text x="89.9" y="469.3" font-size="9.8" fill="#222630" font-family="Liberation Sans, Arial, sans-serif" text-anchor="middle">7</text>
<text x="144.4" y="469.3" font-size="9.8" fill="#222630" font-family="Liberation Sans, Arial, sans-serif" text-anchor="middle">10</text>
<text x="198.4" y="469.3" font-size="9.8" fill="#222630" font-family="Liberation Sans, Arial, sans-serif" text-anchor="middle">13</text>
<text x="252.4" y="469.3" font-size="9.8" fill="#222630" font-family="Liberation Sans, Arial, sans-serif" text-anchor="middle">16</text>
<text x="305.9" y="469.3" font-size="9.8" fill="#222630" font-family="Liberation Sans, Arial, sans-serif" text-anchor="middle">19</text>
<text x="359.9" y="469.3" font-size="9.8" fill="#222630" font-family="Liberation Sans, Arial, sans-serif" text-anchor="middle">22</text>
<text x="414" y="469.3" font-size="9.8" fill="#222630" font-family="Liberation Sans, Arial, sans-serif" text-anchor="middle">25</text>
<text x="464.9" y="469.3" font-size="9.8" fill="#222630" font-family="Liberation Sans, Arial, sans-serif" text-anchor="middle">28</text>
<text x="589.9" y="469.3" font-size="9.8" fill="#222630" font-family="Liberation Sans, Arial, sans-serif" text-anchor="middle">4</text>
<text x="644.5" y="469.3" font-size="9.8" fill="#222630" font-family="Liberation Sans, Arial, sans-serif" text-anchor="middle">7</text>
<text x="698.6" y="469.3" font-size="9.8" fill="#222630" font-family="Liberation Sans, Arial, sans-serif" text-anchor="middle">10</text>
<text x="751.9" y="469.3" font-size="9.8" fill="#222630" font-family="Liberation Sans, Arial, sans-serif" text-anchor="middle">13</text>
<text x="805.7" y="469.3" font-size="9.8" fill="#222630" font-family="Liberation Sans, Arial, sans-serif" text-anchor="middle">16</text>
<text x="859.8" y="469.3" font-size="9.8" fill="#222630" font-family="Liberation Sans, Arial, sans-serif" text-anchor="middle">19</text>
<text x="913.1" y="469.3" font-size="9.8" fill="#222630" font-family="Liberation Sans, Arial, sans-serif" text-anchor="middle">22</text>
<text x="536.4" y="469.3" font-size="9.8" fill="#131722" font-family="Liberation Sans, Arial, sans-serif" font-weight="bold" text-anchor="middle">Nov</text>
<svg x="0" y="0" width="971" height="521" overflow="hidden"><text x="967.6" y="469.3" font-size="9.8" fill="#222630" font-family="Liberation Sans, Arial, sans-serif" text-anchor="middle">25</text></svg>
<g fill="#000000"><path d="M9.3,492 H17.8 V503.3 H13.6 V496.2 H9.3 Z"/><circle cx="21.9" cy="494.5" r="1.8"/><path d="M26.3,492 H31.6 L27.3,503.5 H22 Z"/></g>
<text x="37.7" y="503.4" font-size="15" fill="#111111" font-family="Liberation Sans, Arial, sans-serif" textLength="90.2" lengthAdjust="spacingAndGlyphs" stroke="#111111" stroke-width="0.55">TradingView</text>
</svg>
</body></html>
